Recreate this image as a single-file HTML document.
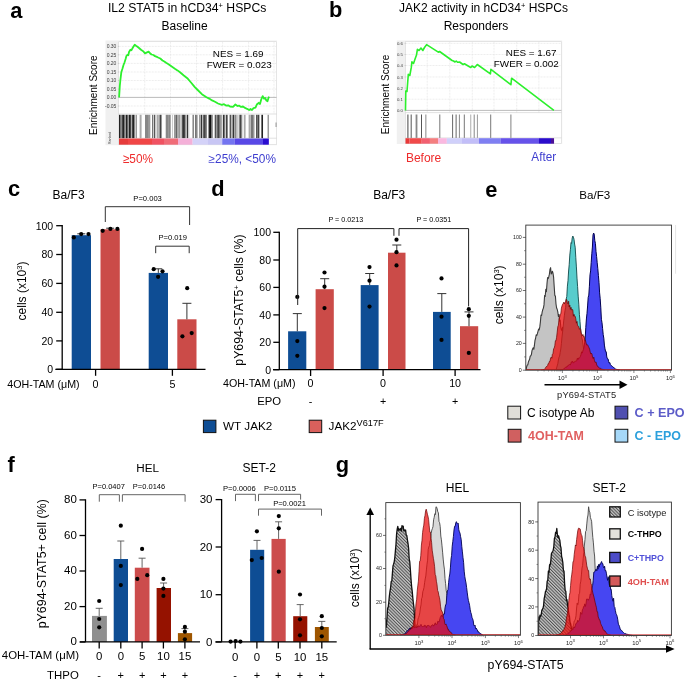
<!DOCTYPE html>
<html><head><meta charset="utf-8"><style>
html,body{margin:0;padding:0;background:#fff;}
svg{display:block;will-change:transform;filter:blur(0.3px);}
text{font-family:"Liberation Sans", sans-serif;}
</style></head><body>
<svg width="685" height="681" viewBox="0 0 685 681" font-family='"Liberation Sans", sans-serif'>
<rect width="685" height="681" fill="#fff"/>
<text x="10.3" y="17.5" font-size="21.8" fill="#000" text-anchor="start" font-weight="bold" >a</text>
<text x="329" y="17" font-size="21.8" fill="#000" text-anchor="start" font-weight="bold" >b</text>
<text x="8" y="195.8" font-size="21.8" fill="#000" text-anchor="start" font-weight="bold" >c</text>
<text x="211.3" y="195.8" font-size="21.8" fill="#000" text-anchor="start" font-weight="bold" >d</text>
<text x="485.2" y="196.7" font-size="21.8" fill="#000" text-anchor="start" font-weight="bold" >e</text>
<text x="7.5" y="471.6" font-size="21.8" fill="#000" text-anchor="start" font-weight="bold" >f</text>
<text x="335.8" y="471.5" font-size="21.8" fill="#000" text-anchor="start" font-weight="bold" >g</text>
<text x="187.1" y="12.1" font-size="12.2" fill="#000" text-anchor="middle" >IL2 STAT5 in hCD34<tspan dy="-4.5" font-size="7.5">+</tspan><tspan dy="4.5"> HSPCs</tspan></text>
<text x="184.6" y="29.7" font-size="12" fill="#000" text-anchor="middle" >Baseline</text>
<rect x="105.5" y="40.5" width="171.5" height="104.69999999999999" fill="#f0f0f0" />
<rect x="118.7" y="41.7" width="157.90000000000003" height="102.99999999999999" fill="#ffffff" />
<rect x="118.7" y="41.7" width="157.90000000000003" height="102.99999999999999" fill="none" stroke="#d8d8d8" stroke-width="0.6"/>
<line x1="144.7" y1="41.7" x2="144.7" y2="114" stroke="#e2e2e2" stroke-width="0.6" stroke-dasharray="2,1"/>
<line x1="170.5" y1="41.7" x2="170.5" y2="114" stroke="#e2e2e2" stroke-width="0.6" stroke-dasharray="2,1"/>
<line x1="196.5" y1="41.7" x2="196.5" y2="114" stroke="#e2e2e2" stroke-width="0.6" stroke-dasharray="2,1"/>
<line x1="222.6" y1="41.7" x2="222.6" y2="114" stroke="#e2e2e2" stroke-width="0.6" stroke-dasharray="2,1"/>
<line x1="248.6" y1="41.7" x2="248.6" y2="114" stroke="#e2e2e2" stroke-width="0.6" stroke-dasharray="2,1"/>
<line x1="274" y1="41.7" x2="274" y2="114" stroke="#e2e2e2" stroke-width="0.6" stroke-dasharray="2,1"/>
<line x1="118.7" y1="46.4" x2="276.6" y2="46.4" stroke="#e2e2e2" stroke-width="0.6" stroke-dasharray="2,1"/>
<text x="116.4" y="48.3" font-size="5.0" fill="#3a3a3a" text-anchor="end" >0.30</text>
<line x1="117.9" y1="46.4" x2="118.7" y2="46.4" stroke="#999" stroke-width="0.5" />
<line x1="118.7" y1="54.8" x2="276.6" y2="54.8" stroke="#e2e2e2" stroke-width="0.6" stroke-dasharray="2,1"/>
<text x="116.4" y="56.699999999999996" font-size="5.0" fill="#3a3a3a" text-anchor="end" >0.25</text>
<line x1="117.9" y1="54.8" x2="118.7" y2="54.8" stroke="#999" stroke-width="0.5" />
<line x1="118.7" y1="63.4" x2="276.6" y2="63.4" stroke="#e2e2e2" stroke-width="0.6" stroke-dasharray="2,1"/>
<text x="116.4" y="65.3" font-size="5.0" fill="#3a3a3a" text-anchor="end" >0.20</text>
<line x1="117.9" y1="63.4" x2="118.7" y2="63.4" stroke="#999" stroke-width="0.5" />
<line x1="118.7" y1="72" x2="276.6" y2="72" stroke="#e2e2e2" stroke-width="0.6" stroke-dasharray="2,1"/>
<text x="116.4" y="73.9" font-size="5.0" fill="#3a3a3a" text-anchor="end" >0.15</text>
<line x1="117.9" y1="72" x2="118.7" y2="72" stroke="#999" stroke-width="0.5" />
<line x1="118.7" y1="80.5" x2="276.6" y2="80.5" stroke="#e2e2e2" stroke-width="0.6" stroke-dasharray="2,1"/>
<text x="116.4" y="82.4" font-size="5.0" fill="#3a3a3a" text-anchor="end" >0.10</text>
<line x1="117.9" y1="80.5" x2="118.7" y2="80.5" stroke="#999" stroke-width="0.5" />
<line x1="118.7" y1="89.1" x2="276.6" y2="89.1" stroke="#e2e2e2" stroke-width="0.6" stroke-dasharray="2,1"/>
<text x="116.4" y="91.0" font-size="5.0" fill="#3a3a3a" text-anchor="end" >0.05</text>
<line x1="117.9" y1="89.1" x2="118.7" y2="89.1" stroke="#999" stroke-width="0.5" />
<line x1="118.7" y1="97.4" x2="276.6" y2="97.4" stroke="#aaaaaa" stroke-width="0.8" />
<text x="116.4" y="99.30000000000001" font-size="5.0" fill="#3a3a3a" text-anchor="end" >0.00</text>
<line x1="117.9" y1="97.4" x2="118.7" y2="97.4" stroke="#999" stroke-width="0.5" />
<line x1="118.7" y1="106" x2="276.6" y2="106" stroke="#e2e2e2" stroke-width="0.6" stroke-dasharray="2,1"/>
<text x="116.4" y="107.9" font-size="5.0" fill="#3a3a3a" text-anchor="end" >-0.05</text>
<line x1="117.9" y1="106" x2="118.7" y2="106" stroke="#999" stroke-width="0.5" />
<line x1="118.7" y1="114" x2="276.6" y2="114" stroke="#cccccc" stroke-width="0.6" />
<line x1="118.7" y1="138.2" x2="276.6" y2="138.2" stroke="#cccccc" stroke-width="0.6" />
<text transform="translate(96.6,95.2) rotate(-90)" x="0" y="0" font-size="10" fill="#000" text-anchor="middle" >Enrichment Score</text>
<text x="212.8" y="56.7" font-size="9.9" fill="#000" text-anchor="start" >NES = 1.69</text>
<text x="206.7" y="68" font-size="9.9" fill="#000" text-anchor="start" >FWER = 0.023</text>
<text x="122.8" y="162.5" font-size="12.8" fill="#ee2b2b" text-anchor="start"  textLength="30.2" lengthAdjust="spacingAndGlyphs">≥50%</text>
<text x="208.6" y="162.6" font-size="12.2" fill="#3d3dcf" text-anchor="start"  textLength="67.4" lengthAdjust="spacingAndGlyphs">≥25%, &lt;50%</text>
<text transform="translate(110.5,144) rotate(-90)" font-size="3.5" fill="#444">Ranked</text>
<rect x="119" y="114.8" width="1.02" height="23.39999999999999" fill="rgb(34,34,34)" />
<rect x="120" y="114.8" width="1.02" height="23.39999999999999" fill="rgb(119,119,119)" />
<rect x="121" y="114.8" width="1.02" height="23.39999999999999" fill="rgb(136,136,136)" />
<rect x="122" y="114.8" width="1.02" height="23.39999999999999" fill="rgb(68,68,68)" />
<rect x="123" y="114.8" width="1.02" height="23.39999999999999" fill="rgb(34,34,34)" />
<rect x="124" y="114.8" width="1.02" height="23.39999999999999" fill="rgb(119,119,119)" />
<rect x="125" y="114.8" width="1.02" height="23.39999999999999" fill="rgb(153,153,153)" />
<rect x="126" y="114.8" width="1.02" height="23.39999999999999" fill="rgb(34,34,34)" />
<rect x="127" y="114.8" width="1.02" height="23.39999999999999" fill="rgb(102,102,102)" />
<rect x="128" y="114.8" width="1.02" height="23.39999999999999" fill="rgb(153,153,153)" />
<rect x="129" y="114.8" width="1.02" height="23.39999999999999" fill="rgb(34,34,34)" />
<rect x="130" y="114.8" width="1.02" height="23.39999999999999" fill="rgb(68,68,68)" />
<rect x="131" y="114.8" width="1.02" height="23.39999999999999" fill="rgb(170,170,170)" />
<rect x="132" y="114.8" width="1.02" height="23.39999999999999" fill="rgb(68,68,68)" />
<rect x="133" y="114.8" width="1.02" height="23.39999999999999" fill="rgb(34,34,34)" />
<rect x="134" y="114.8" width="1.02" height="23.39999999999999" fill="rgb(136,136,136)" />
<rect x="135" y="114.8" width="1.02" height="23.39999999999999" fill="rgb(204,204,204)" />
<rect x="136" y="114.8" width="1.02" height="23.39999999999999" fill="rgb(153,153,153)" />
<rect x="139" y="114.8" width="1.02" height="23.39999999999999" fill="rgb(221,221,221)" />
<rect x="140" y="114.8" width="1.02" height="23.39999999999999" fill="rgb(170,170,170)" />
<rect x="141" y="114.8" width="1.02" height="23.39999999999999" fill="rgb(204,204,204)" />
<rect x="145" y="114.8" width="1.02" height="23.39999999999999" fill="rgb(136,136,136)" />
<rect x="146" y="114.8" width="1.02" height="23.39999999999999" fill="rgb(136,136,136)" />
<rect x="147" y="114.8" width="1.02" height="23.39999999999999" fill="rgb(136,136,136)" />
<rect x="148" y="114.8" width="1.02" height="23.39999999999999" fill="rgb(153,153,153)" />
<rect x="149" y="114.8" width="1.02" height="23.39999999999999" fill="rgb(153,153,153)" />
<rect x="150" y="114.8" width="1.02" height="23.39999999999999" fill="rgb(221,221,221)" />
<rect x="152" y="114.8" width="1.02" height="23.39999999999999" fill="rgb(119,119,119)" />
<rect x="153" y="114.8" width="1.02" height="23.39999999999999" fill="rgb(204,204,204)" />
<rect x="154" y="114.8" width="1.02" height="23.39999999999999" fill="rgb(85,85,85)" />
<rect x="155" y="114.8" width="1.02" height="23.39999999999999" fill="rgb(204,204,204)" />
<rect x="156" y="114.8" width="1.02" height="23.39999999999999" fill="rgb(221,221,221)" />
<rect x="157" y="114.8" width="1.02" height="23.39999999999999" fill="rgb(170,170,170)" />
<rect x="158" y="114.8" width="1.02" height="23.39999999999999" fill="rgb(187,187,187)" />
<rect x="159" y="114.8" width="1.02" height="23.39999999999999" fill="rgb(153,153,153)" />
<rect x="160" y="114.8" width="1.02" height="23.39999999999999" fill="rgb(68,68,68)" />
<rect x="161" y="114.8" width="1.02" height="23.39999999999999" fill="rgb(153,153,153)" />
<rect x="165" y="114.8" width="1.02" height="23.39999999999999" fill="rgb(221,221,221)" />
<rect x="166" y="114.8" width="1.02" height="23.39999999999999" fill="rgb(136,136,136)" />
<rect x="167" y="114.8" width="1.02" height="23.39999999999999" fill="rgb(136,136,136)" />
<rect x="168" y="114.8" width="1.02" height="23.39999999999999" fill="rgb(153,153,153)" />
<rect x="169" y="114.8" width="1.02" height="23.39999999999999" fill="rgb(136,136,136)" />
<rect x="170" y="114.8" width="1.02" height="23.39999999999999" fill="rgb(170,170,170)" />
<rect x="172" y="114.8" width="1.02" height="23.39999999999999" fill="rgb(204,204,204)" />
<rect x="174" y="114.8" width="1.02" height="23.39999999999999" fill="rgb(153,153,153)" />
<rect x="175" y="114.8" width="1.02" height="23.39999999999999" fill="rgb(153,153,153)" />
<rect x="176" y="114.8" width="1.02" height="23.39999999999999" fill="rgb(102,102,102)" />
<rect x="177" y="114.8" width="1.02" height="23.39999999999999" fill="rgb(170,170,170)" />
<rect x="178" y="114.8" width="1.02" height="23.39999999999999" fill="rgb(170,170,170)" />
<rect x="179" y="114.8" width="1.02" height="23.39999999999999" fill="rgb(153,153,153)" />
<rect x="180" y="114.8" width="1.02" height="23.39999999999999" fill="rgb(204,204,204)" />
<rect x="181" y="114.8" width="1.02" height="23.39999999999999" fill="rgb(187,187,187)" />
<rect x="182" y="114.8" width="1.02" height="23.39999999999999" fill="rgb(85,85,85)" />
<rect x="183" y="114.8" width="1.02" height="23.39999999999999" fill="rgb(51,51,51)" />
<rect x="184" y="114.8" width="1.02" height="23.39999999999999" fill="rgb(68,68,68)" />
<rect x="185" y="114.8" width="1.02" height="23.39999999999999" fill="rgb(153,153,153)" />
<rect x="186" y="114.8" width="1.02" height="23.39999999999999" fill="rgb(187,187,187)" />
<rect x="187" y="114.8" width="1.02" height="23.39999999999999" fill="rgb(51,51,51)" />
<rect x="188" y="114.8" width="1.02" height="23.39999999999999" fill="rgb(204,204,204)" />
<rect x="189" y="114.8" width="1.02" height="23.39999999999999" fill="rgb(238,238,238)" />
<rect x="192" y="114.8" width="1.02" height="23.39999999999999" fill="rgb(187,187,187)" />
<rect x="193" y="114.8" width="1.02" height="23.39999999999999" fill="rgb(136,136,136)" />
<rect x="195" y="114.8" width="1.02" height="23.39999999999999" fill="rgb(119,119,119)" />
<rect x="196" y="114.8" width="1.02" height="23.39999999999999" fill="rgb(136,136,136)" />
<rect x="197" y="114.8" width="1.02" height="23.39999999999999" fill="rgb(187,187,187)" />
<rect x="199" y="114.8" width="1.02" height="23.39999999999999" fill="rgb(153,153,153)" />
<rect x="200" y="114.8" width="1.02" height="23.39999999999999" fill="rgb(170,170,170)" />
<rect x="201" y="114.8" width="1.02" height="23.39999999999999" fill="rgb(51,51,51)" />
<rect x="202" y="114.8" width="1.02" height="23.39999999999999" fill="rgb(187,187,187)" />
<rect x="203" y="114.8" width="1.02" height="23.39999999999999" fill="rgb(102,102,102)" />
<rect x="204" y="114.8" width="1.02" height="23.39999999999999" fill="rgb(68,68,68)" />
<rect x="205" y="114.8" width="1.02" height="23.39999999999999" fill="rgb(102,102,102)" />
<rect x="206" y="114.8" width="1.02" height="23.39999999999999" fill="rgb(136,136,136)" />
<rect x="208" y="114.8" width="1.02" height="23.39999999999999" fill="rgb(153,153,153)" />
<rect x="209" y="114.8" width="1.02" height="23.39999999999999" fill="rgb(34,34,34)" />
<rect x="210" y="114.8" width="1.02" height="23.39999999999999" fill="rgb(17,17,17)" />
<rect x="211" y="114.8" width="1.02" height="23.39999999999999" fill="rgb(119,119,119)" />
<rect x="212" y="114.8" width="1.02" height="23.39999999999999" fill="rgb(153,153,153)" />
<rect x="214" y="114.8" width="1.02" height="23.39999999999999" fill="rgb(204,204,204)" />
<rect x="215" y="114.8" width="1.02" height="23.39999999999999" fill="rgb(85,85,85)" />
<rect x="216" y="114.8" width="1.02" height="23.39999999999999" fill="rgb(153,153,153)" />
<rect x="217" y="114.8" width="1.02" height="23.39999999999999" fill="rgb(102,102,102)" />
<rect x="218" y="114.8" width="1.02" height="23.39999999999999" fill="rgb(68,68,68)" />
<rect x="219" y="114.8" width="1.02" height="23.39999999999999" fill="rgb(119,119,119)" />
<rect x="220" y="114.8" width="1.02" height="23.39999999999999" fill="rgb(153,153,153)" />
<rect x="221" y="114.8" width="1.02" height="23.39999999999999" fill="rgb(170,170,170)" />
<rect x="222" y="114.8" width="1.02" height="23.39999999999999" fill="rgb(221,221,221)" />
<rect x="223" y="114.8" width="1.02" height="23.39999999999999" fill="rgb(51,51,51)" />
<rect x="224" y="114.8" width="1.02" height="23.39999999999999" fill="rgb(119,119,119)" />
<rect x="225" y="114.8" width="1.02" height="23.39999999999999" fill="rgb(204,204,204)" />
<rect x="226" y="114.8" width="1.02" height="23.39999999999999" fill="rgb(68,68,68)" />
<rect x="227" y="114.8" width="1.02" height="23.39999999999999" fill="rgb(136,136,136)" />
<rect x="229" y="114.8" width="1.02" height="23.39999999999999" fill="rgb(187,187,187)" />
<rect x="230" y="114.8" width="1.02" height="23.39999999999999" fill="rgb(85,85,85)" />
<rect x="231" y="114.8" width="1.02" height="23.39999999999999" fill="rgb(187,187,187)" />
<rect x="232" y="114.8" width="1.02" height="23.39999999999999" fill="rgb(153,153,153)" />
<rect x="233" y="114.8" width="1.02" height="23.39999999999999" fill="rgb(51,51,51)" />
<rect x="234" y="114.8" width="1.02" height="23.39999999999999" fill="rgb(170,170,170)" />
<rect x="235" y="114.8" width="1.02" height="23.39999999999999" fill="rgb(136,136,136)" />
<rect x="236" y="114.8" width="1.02" height="23.39999999999999" fill="rgb(187,187,187)" />
<rect x="237" y="114.8" width="1.02" height="23.39999999999999" fill="rgb(204,204,204)" />
<rect x="238" y="114.8" width="1.02" height="23.39999999999999" fill="rgb(221,221,221)" />
<rect x="239" y="114.8" width="1.02" height="23.39999999999999" fill="rgb(136,136,136)" />
<rect x="240" y="114.8" width="1.02" height="23.39999999999999" fill="rgb(68,68,68)" />
<rect x="241" y="114.8" width="1.02" height="23.39999999999999" fill="rgb(136,136,136)" />
<rect x="242" y="114.8" width="1.02" height="23.39999999999999" fill="rgb(221,221,221)" />
<rect x="243" y="114.8" width="1.02" height="23.39999999999999" fill="rgb(238,238,238)" />
<rect x="244" y="114.8" width="1.02" height="23.39999999999999" fill="rgb(170,170,170)" />
<rect x="245" y="114.8" width="1.02" height="23.39999999999999" fill="rgb(204,204,204)" />
<rect x="248" y="114.8" width="1.02" height="23.39999999999999" fill="rgb(221,221,221)" />
<rect x="249" y="114.8" width="1.02" height="23.39999999999999" fill="rgb(170,170,170)" />
<rect x="250" y="114.8" width="1.02" height="23.39999999999999" fill="rgb(187,187,187)" />
<rect x="251" y="114.8" width="1.02" height="23.39999999999999" fill="rgb(119,119,119)" />
<rect x="252" y="114.8" width="1.02" height="23.39999999999999" fill="rgb(119,119,119)" />
<rect x="253" y="114.8" width="1.02" height="23.39999999999999" fill="rgb(153,153,153)" />
<rect x="254" y="114.8" width="1.02" height="23.39999999999999" fill="rgb(204,204,204)" />
<rect x="256" y="114.8" width="1.02" height="23.39999999999999" fill="rgb(85,85,85)" />
<rect x="257" y="114.8" width="1.02" height="23.39999999999999" fill="rgb(119,119,119)" />
<rect x="258" y="114.8" width="1.02" height="23.39999999999999" fill="rgb(68,68,68)" />
<rect x="259" y="114.8" width="1.02" height="23.39999999999999" fill="rgb(187,187,187)" />
<rect x="261" y="114.8" width="1.02" height="23.39999999999999" fill="rgb(119,119,119)" />
<rect x="262" y="114.8" width="1.02" height="23.39999999999999" fill="rgb(34,34,34)" />
<rect x="267" y="114.8" width="1.02" height="23.39999999999999" fill="rgb(204,204,204)" />
<rect x="268" y="114.8" width="1.02" height="23.39999999999999" fill="rgb(153,153,153)" />
<rect x="119" y="138.5" width="9.05" height="6.2" fill="#e63c3c" />
<rect x="128" y="138.5" width="24.05" height="6.2" fill="#f04646" />
<rect x="152" y="138.5" width="12.05" height="6.2" fill="#f05262" />
<rect x="164" y="138.5" width="14.05" height="6.2" fill="#f06c78" />
<rect x="178" y="138.5" width="14.649999999999995" height="6.2" fill="#f4b0d8" />
<rect x="192.6" y="138.5" width="15.450000000000006" height="6.2" fill="#d4d2f8" />
<rect x="208" y="138.5" width="14.24999999999999" height="6.2" fill="#c8c6f4" />
<rect x="222.2" y="138.5" width="12.55" height="6.2" fill="#7474f0" />
<rect x="234.7" y="138.5" width="28.24999999999999" height="6.2" fill="#5848e6" />
<rect x="262.9" y="138.5" width="5.950000000000034" height="6.2" fill="#2a0cd0" />
<rect x="275.6" y="122.5" width="0.9" height="4.5" fill="#888" />
<polyline points="119.10,97.40 119.30,94.00 119.80,86.00 120.40,80.00 121.30,72.30 122.50,68.50 123.50,65.00 124.50,62.50 125.60,59.00 126.40,56.00 127.40,54.80 128.30,55.20 129.00,52.00 130.40,49.70 131.50,50.20 132.50,48.20 133.50,46.50 134.70,44.80 136.00,45.80 137.50,46.80 139.00,48.00 141.30,50.00 143.20,51.20 145.00,53.40 146.50,52.60 148.60,51.60 150.00,53.20 151.50,54.50 153.50,55.00 155.00,56.20 157.50,57.20 160.30,58.50 162.50,60.50 164.30,61.50 166.10,62.80 168.50,64.20 171.00,66.00 174.90,68.70 177.50,70.40 180.00,72.30 183.50,75.20 187.30,78.20 191.00,82.50 194.60,86.90 197.70,90.00 201.90,94.20 206.50,97.20 209.20,98.60 212.10,100.40 215.00,101.80 218.00,103.50 221.80,104.80 224.00,104.20 226.00,105.60 228.20,105.30 230.00,106.50 233.00,106.90 235.40,104.50 237.50,106.00 239.00,105.60 241.00,106.90 243.00,106.50 245.50,108.20 247.00,108.80 249.10,110.10 250.50,109.00 252.00,110.00 253.50,108.20 255.50,107.70 256.80,104.50 258.70,102.80 260.00,104.00 261.20,99.50 262.70,96.10 264.00,98.60 265.10,98.00 266.40,100.50 267.50,101.20 268.30,98.50 269.10,96.70" fill="none" stroke="#2cf02c" stroke-width="1.8" stroke-linejoin="round"/>
<text x="398.9" y="12.1" font-size="12" fill="#000" text-anchor="start" >JAK2 activity in hCD34<tspan dy="-4.5" font-size="7.5">+</tspan><tspan dy="4.5"> HSPCs</tspan></text>
<text x="476" y="29.7" font-size="12" fill="#000" text-anchor="middle" >Responders</text>
<rect x="396.8" y="40.5" width="165.40000000000003" height="103.5" fill="#f0f0f0" />
<rect x="405.5" y="41.7" width="155.89999999999998" height="101.99999999999999" fill="#ffffff" />
<rect x="405.5" y="41.7" width="155.89999999999998" height="101.8" fill="none" stroke="#d8d8d8" stroke-width="0.6"/>
<line x1="427.2" y1="41.7" x2="427.2" y2="112.6" stroke="#e2e2e2" stroke-width="0.6" stroke-dasharray="2,1"/>
<line x1="449.8" y1="41.7" x2="449.8" y2="112.6" stroke="#e2e2e2" stroke-width="0.6" stroke-dasharray="2,1"/>
<line x1="472.3" y1="41.7" x2="472.3" y2="112.6" stroke="#e2e2e2" stroke-width="0.6" stroke-dasharray="2,1"/>
<line x1="494" y1="41.7" x2="494" y2="112.6" stroke="#e2e2e2" stroke-width="0.6" stroke-dasharray="2,1"/>
<line x1="516.7" y1="41.7" x2="516.7" y2="112.6" stroke="#e2e2e2" stroke-width="0.6" stroke-dasharray="2,1"/>
<line x1="538.9" y1="41.7" x2="538.9" y2="112.6" stroke="#e2e2e2" stroke-width="0.6" stroke-dasharray="2,1"/>
<line x1="405.5" y1="43.4" x2="561.4" y2="43.4" stroke="#e2e2e2" stroke-width="0.6" stroke-dasharray="2,1"/>
<text x="402.9" y="45.034" font-size="4.3" fill="#3a3a3a" text-anchor="end" >0.6</text>
<line x1="404.7" y1="43.4" x2="405.5" y2="43.4" stroke="#999" stroke-width="0.5" />
<line x1="405.5" y1="54.5" x2="561.4" y2="54.5" stroke="#e2e2e2" stroke-width="0.6" stroke-dasharray="2,1"/>
<text x="402.9" y="56.134" font-size="4.3" fill="#3a3a3a" text-anchor="end" >0.5</text>
<line x1="404.7" y1="54.5" x2="405.5" y2="54.5" stroke="#999" stroke-width="0.5" />
<line x1="405.5" y1="65.5" x2="561.4" y2="65.5" stroke="#e2e2e2" stroke-width="0.6" stroke-dasharray="2,1"/>
<text x="402.9" y="67.134" font-size="4.3" fill="#3a3a3a" text-anchor="end" >0.4</text>
<line x1="404.7" y1="65.5" x2="405.5" y2="65.5" stroke="#999" stroke-width="0.5" />
<line x1="405.5" y1="77" x2="561.4" y2="77" stroke="#e2e2e2" stroke-width="0.6" stroke-dasharray="2,1"/>
<text x="402.9" y="78.634" font-size="4.3" fill="#3a3a3a" text-anchor="end" >0.3</text>
<line x1="404.7" y1="77" x2="405.5" y2="77" stroke="#999" stroke-width="0.5" />
<line x1="405.5" y1="88.1" x2="561.4" y2="88.1" stroke="#e2e2e2" stroke-width="0.6" stroke-dasharray="2,1"/>
<text x="402.9" y="89.734" font-size="4.3" fill="#3a3a3a" text-anchor="end" >0.2</text>
<line x1="404.7" y1="88.1" x2="405.5" y2="88.1" stroke="#999" stroke-width="0.5" />
<line x1="405.5" y1="99.2" x2="561.4" y2="99.2" stroke="#e2e2e2" stroke-width="0.6" stroke-dasharray="2,1"/>
<text x="402.9" y="100.834" font-size="4.3" fill="#3a3a3a" text-anchor="end" >0.1</text>
<line x1="404.7" y1="99.2" x2="405.5" y2="99.2" stroke="#999" stroke-width="0.5" />
<line x1="405.5" y1="110.4" x2="561.4" y2="110.4" stroke="#aaaaaa" stroke-width="0.8" />
<text x="402.9" y="112.034" font-size="4.3" fill="#3a3a3a" text-anchor="end" >0.0</text>
<line x1="404.7" y1="110.4" x2="405.5" y2="110.4" stroke="#999" stroke-width="0.5" />
<line x1="405.5" y1="112.6" x2="561.4" y2="112.6" stroke="#cccccc" stroke-width="0.6" />
<line x1="405.5" y1="137.89999999999998" x2="561.4" y2="137.89999999999998" stroke="#cccccc" stroke-width="0.6" />
<text transform="translate(388.8,94.5) rotate(-90)" x="0" y="0" font-size="10" fill="#000" text-anchor="middle" >Enrichment Score</text>
<text x="505.8" y="55.8" font-size="9.9" fill="#000" text-anchor="start" >NES = 1.67</text>
<text x="493.8" y="66.8" font-size="9.9" fill="#000" text-anchor="start" >FWER = 0.002</text>
<text x="405.9" y="161.5" font-size="12.2" fill="#ee2b2b" text-anchor="start"  textLength="35.4" lengthAdjust="spacingAndGlyphs">Before</text>
<text x="531.3" y="161.3" font-size="12" fill="#3d3dcf" text-anchor="start"  textLength="24.8" lengthAdjust="spacingAndGlyphs">After</text>
<text transform="translate(401.5,140) rotate(-90)" font-size="3.5" fill="#444"></text>
<rect x="407.34999999999997" y="114.5" width="1.1" height="23.4" fill="rgb(85,85,85)" />
<rect x="410.65" y="114.5" width="1.1" height="23.4" fill="rgb(102,102,102)" />
<rect x="415.6" y="114.5" width="1.8" height="23.4" fill="rgb(136,136,136)" />
<rect x="421.0" y="114.5" width="1.0" height="23.4" fill="rgb(85,85,85)" />
<rect x="425.1" y="114.5" width="1.4" height="23.4" fill="rgb(170,170,170)" />
<rect x="439.3" y="114.5" width="1.0" height="23.4" fill="rgb(119,119,119)" />
<rect x="452.1" y="114.5" width="1.0" height="23.4" fill="rgb(102,102,102)" />
<rect x="455.6" y="114.5" width="1.0" height="23.4" fill="rgb(102,102,102)" />
<rect x="458.9" y="114.5" width="1.0" height="23.4" fill="rgb(136,136,136)" />
<rect x="463.8" y="114.5" width="1.0" height="23.4" fill="rgb(119,119,119)" />
<rect x="470.09999999999997" y="114.5" width="1.2" height="23.4" fill="rgb(187,187,187)" />
<rect x="473.7" y="114.5" width="1.0" height="23.4" fill="rgb(136,136,136)" />
<rect x="476.9" y="114.5" width="1.0" height="23.4" fill="rgb(153,153,153)" />
<rect x="490.2" y="114.5" width="1.0" height="23.4" fill="rgb(120,120,120)" />
<rect x="510.4" y="114.5" width="1.0" height="23.4" fill="rgb(130,130,130)" />
<rect x="405.5" y="138.2" width="4.05" height="5.5" fill="#e83838" />
<rect x="409.5" y="138.2" width="12.24999999999999" height="5.5" fill="#f04a4a" />
<rect x="421.7" y="138.2" width="8.24999999999999" height="5.5" fill="#f26070" />
<rect x="429.9" y="138.2" width="8.150000000000023" height="5.5" fill="#f47f80" />
<rect x="438" y="138.2" width="8.850000000000012" height="5.5" fill="#fab8e0" />
<rect x="446.8" y="138.2" width="15.24999999999999" height="5.5" fill="#d0d0fa" />
<rect x="462" y="138.2" width="17.05" height="5.5" fill="#c2bef8" />
<rect x="479" y="138.2" width="21.74999999999999" height="5.5" fill="#7f7ff2" />
<rect x="500.7" y="138.2" width="38.249999999999986" height="5.5" fill="#6652ea" />
<rect x="538.9" y="138.2" width="12.150000000000023" height="5.5" fill="#2a0ccc" />
<rect x="551" y="138.2" width="3.05" height="5.5" fill="#4a1098" />
<polyline points="405.50,110.40 405.80,91.00 407.00,91.50 408.30,74.40 409.80,75.50 411.30,67.40 411.90,61.90 413.50,63.50 415.50,57.70 416.50,55.00 417.40,49.40 419.00,50.50 421.00,48.00 422.80,50.50 424.50,47.50 426.60,44.60 438.30,52.20 439.60,51.50 452.10,60.50 453.50,61.00 455.00,62.00 456.20,61.00 457.50,62.30 459.60,62.00 463.00,64.50 464.40,63.80 469.00,66.50 470.80,67.50 472.00,66.00 474.60,67.50 476.00,66.00 477.30,64.50 490.40,73.80 490.90,69.40 510.90,84.70 511.60,78.20 553.90,110.40" fill="none" stroke="#2cf02c" stroke-width="1.6" stroke-linejoin="round"/>
<text x="52.6" y="198.6" font-size="12" fill="#000" text-anchor="start" >Ba/F3</text>
<rect x="71.7" y="235.2" width="19.299999999999997" height="134.10000000000002" fill="#0e4d94" />
<rect x="100.5" y="229.3" width="19.299999999999997" height="140.0" fill="#cb4b48" />
<rect x="148.7" y="272.9" width="19.30000000000001" height="96.40000000000003" fill="#0e4d94" />
<rect x="177.3" y="319.3" width="19.19999999999999" height="50.0" fill="#cb4b48" />
<line x1="81.3" y1="233.8" x2="81.3" y2="235.2" stroke="#333" stroke-width="1" />
<line x1="77.3" y1="233.8" x2="85.3" y2="233.8" stroke="#333" stroke-width="1" />
<line x1="110.2" y1="228.2" x2="110.2" y2="229.3" stroke="#333" stroke-width="1" />
<line x1="106.2" y1="228.2" x2="114.2" y2="228.2" stroke="#333" stroke-width="1" />
<line x1="158.3" y1="268.8" x2="158.3" y2="272.9" stroke="#333" stroke-width="1" />
<line x1="154.3" y1="268.8" x2="162.3" y2="268.8" stroke="#333" stroke-width="1" />
<line x1="186.9" y1="303.3" x2="186.9" y2="319.3" stroke="#333" stroke-width="1" />
<line x1="182.4" y1="303.3" x2="191.4" y2="303.3" stroke="#333" stroke-width="1" />
<circle cx="73.8" cy="237.4" r="2.1" fill="#000"/>
<circle cx="81.2" cy="234.1" r="2.1" fill="#000"/>
<circle cx="88.5" cy="234.1" r="2.1" fill="#000"/>
<circle cx="102.7" cy="230.8" r="2.1" fill="#000"/>
<circle cx="110.4" cy="228.9" r="2.1" fill="#000"/>
<circle cx="117.4" cy="228.9" r="2.1" fill="#000"/>
<circle cx="153.7" cy="269.2" r="2.1" fill="#000"/>
<circle cx="158.1" cy="276.8" r="2.1" fill="#000"/>
<circle cx="162.5" cy="271.3" r="2.1" fill="#000"/>
<circle cx="187.2" cy="288.2" r="2.1" fill="#000"/>
<circle cx="182.4" cy="336.3" r="2.1" fill="#000"/>
<circle cx="191.7" cy="333.1" r="2.1" fill="#000"/>
<line x1="62.2" y1="225.1" x2="62.2" y2="369.3" stroke="#000" stroke-width="1.3" />
<line x1="56.2" y1="225.7" x2="62.2" y2="225.7" stroke="#000" stroke-width="1.3" />
<text x="53.2" y="229.5" font-size="10.5" fill="#000" text-anchor="end" >100</text>
<line x1="56.2" y1="254.5" x2="62.2" y2="254.5" stroke="#000" stroke-width="1.3" />
<text x="53.2" y="258.3" font-size="10.5" fill="#000" text-anchor="end" >80</text>
<line x1="56.2" y1="283.4" x2="62.2" y2="283.4" stroke="#000" stroke-width="1.3" />
<text x="53.2" y="287.2" font-size="10.5" fill="#000" text-anchor="end" >60</text>
<line x1="56.2" y1="312.3" x2="62.2" y2="312.3" stroke="#000" stroke-width="1.3" />
<text x="53.2" y="316.1" font-size="10.5" fill="#000" text-anchor="end" >40</text>
<line x1="56.2" y1="340.9" x2="62.2" y2="340.9" stroke="#000" stroke-width="1.3" />
<text x="53.2" y="344.7" font-size="10.5" fill="#000" text-anchor="end" >20</text>
<line x1="56.2" y1="369.3" x2="62.2" y2="369.3" stroke="#000" stroke-width="1.3" />
<text x="53.2" y="373.1" font-size="10.5" fill="#000" text-anchor="end" >0</text>
<line x1="55.3" y1="369.3" x2="205.5" y2="369.3" stroke="#000" stroke-width="1.3" />
<line x1="95.6" y1="369.3" x2="95.6" y2="375.8" stroke="#000" stroke-width="1.3" />
<line x1="172.4" y1="369.3" x2="172.4" y2="375.8" stroke="#000" stroke-width="1.3" />
<text x="95.6" y="387.5" font-size="10.7" fill="#000" text-anchor="middle" >0</text>
<text x="172.4" y="387.5" font-size="10.7" fill="#000" text-anchor="middle" >5</text>
<text x="7.2" y="387.5" font-size="10.7" fill="#000" text-anchor="start" >4OH-TAM (μM)</text>
<text transform="translate(25.8,291) rotate(-90)" x="0" y="0" font-size="12" fill="#000" text-anchor="middle" >cells (x10<tspan dy="-4" font-size="7.5">3</tspan><tspan dy="4">)</tspan></text>
<polyline points="105.30,222.00 105.30,206.70 189.60,206.70 189.60,225.00" fill="none" stroke="#333" stroke-width="1" />
<polyline points="155.70,253.20 155.70,246.20 189.20,246.20 189.20,253.20" fill="none" stroke="#333" stroke-width="1" />
<text x="147.6" y="200.6" font-size="7.6" fill="#000" text-anchor="middle" >P=0.003</text>
<text x="172.7" y="240" font-size="7.6" fill="#000" text-anchor="middle" >P=0.019</text>
<text x="389.2" y="199.2" font-size="12" fill="#000" text-anchor="middle" >Ba/F3</text>
<rect x="288.1" y="331.3" width="18.19999999999999" height="38.39999999999998" fill="#0e4d94" />
<line x1="297.3" y1="313.6" x2="297.3" y2="331.3" stroke="#333" stroke-width="1" />
<line x1="292.8" y1="313.6" x2="301.8" y2="313.6" stroke="#333" stroke-width="1" />
<rect x="315.6" y="289.2" width="18.19999999999999" height="80.5" fill="#cb4b48" />
<line x1="324.7" y1="278.7" x2="324.7" y2="289.2" stroke="#333" stroke-width="1" />
<line x1="320.2" y1="278.7" x2="329.2" y2="278.7" stroke="#333" stroke-width="1" />
<rect x="360.7" y="285.1" width="17.900000000000034" height="84.59999999999997" fill="#0e4d94" />
<line x1="369.7" y1="273.5" x2="369.7" y2="285.1" stroke="#333" stroke-width="1" />
<line x1="365.2" y1="273.5" x2="374.2" y2="273.5" stroke="#333" stroke-width="1" />
<rect x="388" y="252.7" width="17.5" height="117.0" fill="#cb4b48" />
<line x1="396.8" y1="245" x2="396.8" y2="252.7" stroke="#333" stroke-width="1" />
<line x1="392.3" y1="245" x2="401.3" y2="245" stroke="#333" stroke-width="1" />
<rect x="433" y="311.9" width="17.69999999999999" height="57.80000000000001" fill="#0e4d94" />
<line x1="441.8" y1="293.6" x2="441.8" y2="311.9" stroke="#333" stroke-width="1" />
<line x1="437.3" y1="293.6" x2="446.3" y2="293.6" stroke="#333" stroke-width="1" />
<rect x="460" y="326.2" width="18.19999999999999" height="43.5" fill="#cb4b48" />
<line x1="469" y1="311.9" x2="469" y2="326.2" stroke="#333" stroke-width="1" />
<line x1="464.5" y1="311.9" x2="473.5" y2="311.9" stroke="#333" stroke-width="1" />
<circle cx="297.3" cy="296.9" r="2.1" fill="#000"/>
<circle cx="297.3" cy="341.1" r="2.1" fill="#000"/>
<circle cx="297.3" cy="355.8" r="2.1" fill="#000"/>
<circle cx="324.5" cy="272.5" r="2.1" fill="#000"/>
<circle cx="324.5" cy="286.7" r="2.1" fill="#000"/>
<circle cx="324.5" cy="308.1" r="2.1" fill="#000"/>
<circle cx="369.5" cy="267.1" r="2.1" fill="#000"/>
<circle cx="369.5" cy="280.7" r="2.1" fill="#000"/>
<circle cx="369.5" cy="306.6" r="2.1" fill="#000"/>
<circle cx="396.5" cy="239.7" r="2.1" fill="#000"/>
<circle cx="396.5" cy="252.2" r="2.1" fill="#000"/>
<circle cx="396.5" cy="265.4" r="2.1" fill="#000"/>
<circle cx="441.5" cy="278.4" r="2.1" fill="#000"/>
<circle cx="441.5" cy="316.7" r="2.1" fill="#000"/>
<circle cx="441.5" cy="339.9" r="2.1" fill="#000"/>
<circle cx="468.8" cy="309.2" r="2.1" fill="#000"/>
<circle cx="468.8" cy="315.8" r="2.1" fill="#000"/>
<circle cx="468.8" cy="352.9" r="2.1" fill="#000"/>
<line x1="279.3" y1="231.70000000000002" x2="279.3" y2="369.7" stroke="#000" stroke-width="1.3" />
<line x1="273.3" y1="232.3" x2="279.3" y2="232.3" stroke="#000" stroke-width="1.3" />
<text x="271" y="236.10000000000002" font-size="10.5" fill="#000" text-anchor="end" >100</text>
<line x1="273.3" y1="260" x2="279.3" y2="260" stroke="#000" stroke-width="1.3" />
<text x="271" y="263.8" font-size="10.5" fill="#000" text-anchor="end" >80</text>
<line x1="273.3" y1="287.4" x2="279.3" y2="287.4" stroke="#000" stroke-width="1.3" />
<text x="271" y="291.2" font-size="10.5" fill="#000" text-anchor="end" >60</text>
<line x1="273.3" y1="314.9" x2="279.3" y2="314.9" stroke="#000" stroke-width="1.3" />
<text x="271" y="318.7" font-size="10.5" fill="#000" text-anchor="end" >40</text>
<line x1="273.3" y1="342.3" x2="279.3" y2="342.3" stroke="#000" stroke-width="1.3" />
<text x="271" y="346.1" font-size="10.5" fill="#000" text-anchor="end" >20</text>
<line x1="273.3" y1="369.7" x2="279.3" y2="369.7" stroke="#000" stroke-width="1.3" />
<text x="271" y="373.5" font-size="10.5" fill="#000" text-anchor="end" >0</text>
<line x1="273" y1="369.7" x2="480.5" y2="369.7" stroke="#000" stroke-width="1.3" />
<line x1="310.6" y1="369.7" x2="310.6" y2="376" stroke="#000" stroke-width="1.3" />
<text x="310.6" y="387.3" font-size="10.7" fill="#000" text-anchor="middle" >0</text>
<text x="310.6" y="404.6" font-size="10.7" fill="#000" text-anchor="middle" >-</text>
<line x1="383.1" y1="369.7" x2="383.1" y2="376" stroke="#000" stroke-width="1.3" />
<text x="383.1" y="387.3" font-size="10.7" fill="#000" text-anchor="middle" >0</text>
<text x="383.1" y="404.6" font-size="10.7" fill="#000" text-anchor="middle" >+</text>
<line x1="455.1" y1="369.7" x2="455.1" y2="376" stroke="#000" stroke-width="1.3" />
<text x="455.1" y="387.3" font-size="10.7" fill="#000" text-anchor="middle" >10</text>
<text x="455.1" y="404.6" font-size="10.7" fill="#000" text-anchor="middle" >+</text>
<text x="223.1" y="387.3" font-size="10.7" fill="#000" text-anchor="start" >4OH-TAM (μM)</text>
<text x="257.3" y="404.6" font-size="11.3" fill="#000" text-anchor="start" >EPO</text>
<text transform="translate(242.6,300.1) rotate(-90)" x="0" y="0" font-size="12.3" fill="#000" text-anchor="middle" >pY694-STAT5<tspan dy="-4" font-size="7.7">+</tspan><tspan dy="4"> cells (%)</tspan></text>
<polyline points="297.70,305.00 297.70,228.60 393.90,228.60 393.90,235.80" fill="none" stroke="#222" stroke-width="1" />
<polyline points="399.00,235.80 399.00,228.60 468.60,228.60 468.60,306.40" fill="none" stroke="#222" stroke-width="1" />
<text x="345.8" y="222.2" font-size="7.2" fill="#000" text-anchor="middle" >P = 0.0213</text>
<text x="433.8" y="222.2" font-size="7.2" fill="#000" text-anchor="middle" >P = 0.0351</text>
<rect x="203.4" y="420.2" width="12.5" height="12.4" fill="#0e4d94" stroke="#111" stroke-width="1"/>
<text x="223.1" y="430.4" font-size="11.7" fill="#000" text-anchor="start" >WT JAK2</text>
<rect x="309.2" y="420.2" width="12.5" height="12.4" fill="#d9605c" stroke="#111" stroke-width="1"/>
<text x="328.6" y="430.4" font-size="11.7" fill="#000" text-anchor="start" >JAK2<tspan dy="-4" font-size="9.2">V617F</tspan></text>
<text x="579.3" y="198.7" font-size="11.6" fill="#000" text-anchor="start" >Ba/F3</text>
<line x1="675.6" y1="225" x2="675.6" y2="273.7" stroke="#dddddd" stroke-width="0.8" />
<defs><pattern id="hatch" patternUnits="userSpaceOnUse" width="2.3" height="2.3" patternTransform="rotate(-45)"><rect width="2.3" height="2.3" fill="#c6c6c6"/><line x1="0.5" y1="0" x2="0.5" y2="2.3" stroke="#505050" stroke-width="1.0"/></pattern><clipPath id="clipE"><rect x="526" y="225" width="145.5" height="145.2"/></clipPath><clipPath id="clipG1"><rect x="386" y="502.6" width="134.4" height="132.7"/></clipPath><clipPath id="clipG2"><rect x="538.2" y="502.1" width="133.2" height="133.4"/></clipPath></defs>
<g clip-path="url(#clipE)">
<polygon points="526.00,370.20 526.00,370.20 526.60,366.98 527.20,365.14 527.80,364.81 528.40,361.87 529.00,360.53 529.60,359.34 530.20,356.19 530.80,355.80 531.40,354.60 532.00,350.67 532.60,348.93 533.20,347.84 533.80,349.29 534.40,345.46 535.00,340.37 535.60,338.23 536.20,334.84 536.80,335.47 537.40,333.67 538.00,331.43 538.60,329.06 539.20,329.84 539.80,326.88 540.40,321.82 541.00,315.16 541.60,315.53 542.20,311.95 542.80,309.57 543.40,308.12 544.00,304.90 544.60,295.58 545.20,296.45 545.80,289.23 546.40,291.80 547.00,283.62 547.60,277.49 548.20,278.55 548.80,276.71 549.40,274.17 550.00,269.43 550.60,267.67 551.20,274.01 551.80,272.96 552.40,271.21 553.00,273.21 553.60,277.16 554.20,286.51 554.80,295.29 555.40,296.07 556.00,303.99 556.60,307.99 557.20,309.34 557.80,311.81 558.40,316.40 559.00,314.54 559.60,321.12 560.20,320.20 560.80,327.08 561.40,329.76 562.00,330.55 562.60,327.41 563.20,334.56 563.80,337.62 564.40,342.19 565.00,343.18 565.60,345.68 566.20,349.69 566.80,351.76 567.40,354.85 568.00,352.96 568.60,356.56 569.20,356.73 569.80,358.59 570.40,360.71 571.00,362.84 571.60,362.91 572.20,365.04 572.80,366.97 573.40,367.69 574.00,367.92 574.60,368.63 575.20,369.26 575.80,369.96 576.00,370.20" fill="#c4c4c4" stroke="none" stroke-width="1" />
<polyline points="526.00,370.20 526.60,366.98 527.20,365.14 527.80,364.81 528.40,361.87 529.00,360.53 529.60,359.34 530.20,356.19 530.80,355.80 531.40,354.60 532.00,350.67 532.60,348.93 533.20,347.84 533.80,349.29 534.40,345.46 535.00,340.37 535.60,338.23 536.20,334.84 536.80,335.47 537.40,333.67 538.00,331.43 538.60,329.06 539.20,329.84 539.80,326.88 540.40,321.82 541.00,315.16 541.60,315.53 542.20,311.95 542.80,309.57 543.40,308.12 544.00,304.90 544.60,295.58 545.20,296.45 545.80,289.23 546.40,291.80 547.00,283.62 547.60,277.49 548.20,278.55 548.80,276.71 549.40,274.17 550.00,269.43 550.60,267.67 551.20,274.01 551.80,272.96 552.40,271.21 553.00,273.21 553.60,277.16 554.20,286.51 554.80,295.29 555.40,296.07 556.00,303.99 556.60,307.99 557.20,309.34 557.80,311.81 558.40,316.40 559.00,314.54 559.60,321.12 560.20,320.20 560.80,327.08 561.40,329.76 562.00,330.55 562.60,327.41 563.20,334.56 563.80,337.62 564.40,342.19 565.00,343.18 565.60,345.68 566.20,349.69 566.80,351.76 567.40,354.85 568.00,352.96 568.60,356.56 569.20,356.73 569.80,358.59 570.40,360.71 571.00,362.84 571.60,362.91 572.20,365.04 572.80,366.97 573.40,367.69 574.00,367.92 574.60,368.63 575.20,369.26 575.80,369.96" fill="none" stroke="#3a3a3a" stroke-width="1.1" stroke-linejoin="round" />
<polygon points="556.00,370.20 556.00,370.20 556.60,367.90 557.20,365.91 557.80,363.80 558.40,359.95 559.00,357.21 559.60,356.10 560.20,352.55 560.80,349.03 561.40,343.56 562.00,336.89 562.60,331.89 563.20,326.02 563.80,319.99 564.40,315.19 565.00,310.65 565.60,307.71 566.20,298.98 566.80,296.45 567.40,286.13 568.00,280.63 568.60,271.01 569.20,264.72 569.80,255.10 570.40,249.74 571.00,242.71 571.60,243.38 572.20,238.09 572.80,236.02 573.40,237.20 574.00,239.29 574.60,244.01 575.20,247.26 575.80,257.64 576.40,266.92 577.00,278.09 577.60,286.60 578.20,296.17 578.80,304.19 579.40,314.33 580.00,321.54 580.60,329.23 581.20,334.03 581.80,337.68 582.40,340.06 583.00,344.48 583.60,348.52 584.20,348.42 584.80,353.75 585.40,354.52 586.00,356.38 586.60,357.71 587.20,360.78 587.80,363.12 588.40,364.23 589.00,364.01 589.60,364.31 590.20,365.95 590.80,367.19 591.40,367.80 592.00,368.21 592.60,368.59 593.20,369.37 593.80,369.99 594.00,370.20" fill="#58cccc" stroke="none" stroke-width="1" />
<polyline points="556.00,370.20 556.60,367.90 557.20,365.91 557.80,363.80 558.40,359.95 559.00,357.21 559.60,356.10 560.20,352.55 560.80,349.03 561.40,343.56 562.00,336.89 562.60,331.89 563.20,326.02 563.80,319.99 564.40,315.19 565.00,310.65 565.60,307.71 566.20,298.98 566.80,296.45 567.40,286.13 568.00,280.63 568.60,271.01 569.20,264.72 569.80,255.10 570.40,249.74 571.00,242.71 571.60,243.38 572.20,238.09 572.80,236.02 573.40,237.20 574.00,239.29 574.60,244.01 575.20,247.26 575.80,257.64 576.40,266.92 577.00,278.09 577.60,286.60 578.20,296.17 578.80,304.19 579.40,314.33 580.00,321.54 580.60,329.23 581.20,334.03 581.80,337.68 582.40,340.06 583.00,344.48 583.60,348.52 584.20,348.42 584.80,353.75 585.40,354.52 586.00,356.38 586.60,357.71 587.20,360.78 587.80,363.12 588.40,364.23 589.00,364.01 589.60,364.31 590.20,365.95 590.80,367.19 591.40,367.80 592.00,368.21 592.60,368.59 593.20,369.37 593.80,369.99" fill="none" stroke="#104848" stroke-width="0.9" stroke-linejoin="round" />
<polygon points="560.00,370.20 560.00,370.20 560.60,370.02 561.20,369.84 561.80,369.61 562.40,369.52 563.00,369.35 563.60,369.15 564.20,368.41 564.80,367.98 565.40,367.46 566.00,367.08 566.60,367.23 567.20,366.05 567.80,366.18 568.40,365.19 569.00,364.80 569.60,364.55 570.20,364.97 570.80,363.98 571.40,361.91 572.00,362.08 572.60,361.17 573.20,363.03 573.80,362.44 574.40,362.04 575.00,361.70 575.60,361.05 576.20,361.29 576.80,360.35 577.40,358.16 578.00,359.64 578.60,358.01 579.20,358.44 579.80,357.36 580.40,356.46 581.00,354.69 581.60,351.80 582.20,353.11 582.80,351.20 583.40,349.44 584.00,346.98 584.60,342.86 585.20,337.97 585.80,327.44 586.40,318.96 587.00,313.35 587.60,305.96 588.20,297.33 588.80,295.13 589.40,286.22 590.00,274.84 590.60,270.91 591.20,262.45 591.80,253.75 592.40,247.06 593.00,235.03 593.60,233.02 594.20,234.11 594.80,240.62 595.40,243.34 596.00,251.37 596.60,256.43 597.20,262.67 597.80,268.63 598.40,275.53 599.00,282.48 599.60,292.87 600.20,298.73 600.80,307.85 601.40,319.25 602.00,322.69 602.60,328.53 603.20,334.56 603.80,338.13 604.40,345.09 605.00,348.80 605.60,351.62 606.20,351.67 606.80,356.97 607.40,358.65 608.00,358.82 608.60,361.38 609.20,363.09 609.80,362.55 610.40,364.59 611.00,365.35 611.60,365.79 612.20,366.33 612.80,366.72 613.40,367.35 614.00,367.57 614.60,368.32 615.20,368.63 615.80,369.31 616.40,369.39 617.00,369.36 617.60,369.68 618.20,369.76 618.80,369.89 619.40,370.02 620.00,370.16 620.20,370.20" fill="#4646f2" stroke="none" stroke-width="1" />
<polyline points="560.00,370.20 560.60,370.02 561.20,369.84 561.80,369.61 562.40,369.52 563.00,369.35 563.60,369.15 564.20,368.41 564.80,367.98 565.40,367.46 566.00,367.08 566.60,367.23 567.20,366.05 567.80,366.18 568.40,365.19 569.00,364.80 569.60,364.55 570.20,364.97 570.80,363.98 571.40,361.91 572.00,362.08 572.60,361.17 573.20,363.03 573.80,362.44 574.40,362.04 575.00,361.70 575.60,361.05 576.20,361.29 576.80,360.35 577.40,358.16 578.00,359.64 578.60,358.01 579.20,358.44 579.80,357.36 580.40,356.46 581.00,354.69 581.60,351.80 582.20,353.11 582.80,351.20 583.40,349.44 584.00,346.98 584.60,342.86 585.20,337.97 585.80,327.44 586.40,318.96 587.00,313.35 587.60,305.96 588.20,297.33 588.80,295.13 589.40,286.22 590.00,274.84 590.60,270.91 591.20,262.45 591.80,253.75 592.40,247.06 593.00,235.03 593.60,233.02 594.20,234.11 594.80,240.62 595.40,243.34 596.00,251.37 596.60,256.43 597.20,262.67 597.80,268.63 598.40,275.53 599.00,282.48 599.60,292.87 600.20,298.73 600.80,307.85 601.40,319.25 602.00,322.69 602.60,328.53 603.20,334.56 603.80,338.13 604.40,345.09 605.00,348.80 605.60,351.62 606.20,351.67 606.80,356.97 607.40,358.65 608.00,358.82 608.60,361.38 609.20,363.09 609.80,362.55 610.40,364.59 611.00,365.35 611.60,365.79 612.20,366.33 612.80,366.72 613.40,367.35 614.00,367.57 614.60,368.32 615.20,368.63 615.80,369.31 616.40,369.39 617.00,369.36 617.60,369.68 618.20,369.76 618.80,369.89 619.40,370.02 620.00,370.16" fill="none" stroke="#000050" stroke-width="1.0" stroke-linejoin="round" />
<polygon points="541.00,370.20 541.00,370.20 541.60,370.06 542.20,369.92 542.80,369.78 543.40,369.56 544.00,369.55 544.60,368.90 545.20,368.48 545.80,367.26 546.40,366.51 547.00,366.49 547.60,365.51 548.20,363.58 548.80,363.39 549.40,361.37 550.00,361.38 550.60,358.07 551.20,357.19 551.80,358.24 552.40,354.24 553.00,353.43 553.60,348.74 554.20,348.14 554.80,345.64 555.40,340.76 556.00,340.77 556.60,337.32 557.20,332.15 557.80,326.66 558.40,325.19 559.00,319.09 559.60,317.54 560.20,314.37 560.80,313.95 561.40,308.18 562.00,305.93 562.60,304.25 563.20,303.49 563.80,302.18 564.40,304.06 565.00,302.29 565.60,301.62 566.20,299.27 566.80,299.68 567.40,302.90 568.00,303.88 568.60,301.21 569.20,307.01 569.80,305.11 570.40,309.38 571.00,307.27 571.60,310.17 572.20,309.44 572.80,309.79 573.40,316.22 574.00,314.30 574.60,316.29 575.20,316.33 575.80,318.76 576.40,323.16 577.00,321.39 577.60,325.70 578.20,326.15 578.80,326.41 579.40,329.32 580.00,328.55 580.60,329.19 581.20,333.24 581.80,333.86 582.40,335.90 583.00,334.53 583.60,336.91 584.20,336.34 584.80,340.56 585.40,340.17 586.00,342.64 586.60,344.90 587.20,344.64 587.80,345.09 588.40,346.49 589.00,347.70 589.60,349.17 590.20,351.91 590.80,354.06 591.40,353.15 592.00,354.12 592.60,357.56 593.20,358.51 593.80,357.09 594.40,360.31 595.00,362.32 595.60,362.29 596.20,362.32 596.80,365.37 597.40,365.68 598.00,367.02 598.60,367.32 599.20,367.74 599.80,368.29 600.40,368.20 601.00,369.13 601.60,369.11 602.20,369.25 602.80,369.51 603.40,369.72 604.00,369.90 604.60,370.08 605.00,370.20" fill="rgb(235,12,12)" stroke="none" stroke-width="1" fill-opacity="0.75"/>
<polyline points="541.00,370.20 541.60,370.06 542.20,369.92 542.80,369.78 543.40,369.56 544.00,369.55 544.60,368.90 545.20,368.48 545.80,367.26 546.40,366.51 547.00,366.49 547.60,365.51 548.20,363.58 548.80,363.39 549.40,361.37 550.00,361.38 550.60,358.07 551.20,357.19 551.80,358.24 552.40,354.24 553.00,353.43 553.60,348.74 554.20,348.14 554.80,345.64 555.40,340.76 556.00,340.77 556.60,337.32 557.20,332.15 557.80,326.66 558.40,325.19 559.00,319.09 559.60,317.54 560.20,314.37 560.80,313.95 561.40,308.18 562.00,305.93 562.60,304.25 563.20,303.49 563.80,302.18 564.40,304.06 565.00,302.29 565.60,301.62 566.20,299.27 566.80,299.68 567.40,302.90 568.00,303.88 568.60,301.21 569.20,307.01 569.80,305.11 570.40,309.38 571.00,307.27 571.60,310.17 572.20,309.44 572.80,309.79 573.40,316.22 574.00,314.30 574.60,316.29 575.20,316.33 575.80,318.76 576.40,323.16 577.00,321.39 577.60,325.70 578.20,326.15 578.80,326.41 579.40,329.32 580.00,328.55 580.60,329.19 581.20,333.24 581.80,333.86 582.40,335.90 583.00,334.53 583.60,336.91 584.20,336.34 584.80,340.56 585.40,340.17 586.00,342.64 586.60,344.90 587.20,344.64 587.80,345.09 588.40,346.49 589.00,347.70 589.60,349.17 590.20,351.91 590.80,354.06 591.40,353.15 592.00,354.12 592.60,357.56 593.20,358.51 593.80,357.09 594.40,360.31 595.00,362.32 595.60,362.29 596.20,362.32 596.80,365.37 597.40,365.68 598.00,367.02 598.60,367.32 599.20,367.74 599.80,368.29 600.40,368.20 601.00,369.13 601.60,369.11 602.20,369.25 602.80,369.51 603.40,369.72 604.00,369.90 604.60,370.08" fill="none" stroke="#6a0000" stroke-width="0.7" stroke-linejoin="round" />
<line x1="526" y1="369.6" x2="671.5" y2="369.6" stroke="#c81818" stroke-width="0.9" />
</g>
<rect x="525.8" y="225.1" width="145.7" height="145.1" fill="none" stroke="#333" stroke-width="0.9"/>
<line x1="522.8" y1="237.4" x2="525.8" y2="237.4" stroke="#333" stroke-width="0.7" />
<text x="521.8" y="239.3" font-size="5.3" fill="#222" text-anchor="end" >100</text>
<line x1="522.8" y1="264.2" x2="525.8" y2="264.2" stroke="#333" stroke-width="0.7" />
<text x="521.8" y="266.09999999999997" font-size="5.3" fill="#222" text-anchor="end" >80</text>
<line x1="522.8" y1="290.5" x2="525.8" y2="290.5" stroke="#333" stroke-width="0.7" />
<text x="521.8" y="292.4" font-size="5.3" fill="#222" text-anchor="end" >60</text>
<line x1="522.8" y1="317.1" x2="525.8" y2="317.1" stroke="#333" stroke-width="0.7" />
<text x="521.8" y="319.0" font-size="5.3" fill="#222" text-anchor="end" >40</text>
<line x1="522.8" y1="343.4" x2="525.8" y2="343.4" stroke="#333" stroke-width="0.7" />
<text x="521.8" y="345.29999999999995" font-size="5.3" fill="#222" text-anchor="end" >20</text>
<line x1="522.8" y1="370.2" x2="525.8" y2="370.2" stroke="#333" stroke-width="0.7" />
<text x="521.8" y="372.09999999999997" font-size="5.3" fill="#222" text-anchor="end" >0</text>
<line x1="524" y1="250.68" x2="525.8" y2="250.68" stroke="#333" stroke-width="0.5" />
<line x1="524" y1="277.24" x2="525.8" y2="277.24" stroke="#333" stroke-width="0.5" />
<line x1="524" y1="303.8" x2="525.8" y2="303.8" stroke="#333" stroke-width="0.5" />
<line x1="524" y1="330.36" x2="525.8" y2="330.36" stroke="#333" stroke-width="0.5" />
<line x1="524" y1="356.92" x2="525.8" y2="356.92" stroke="#333" stroke-width="0.5" />
<line x1="562.4" y1="370.2" x2="562.4" y2="373.0" stroke="#333" stroke-width="0.6" />
<text x="562.4" y="380.3" font-size="5.9" fill="#222" text-anchor="middle" >10<tspan dy="-2.4" font-size="4.2">3</tspan></text>
<line x1="572.9360498482393" y1="370.2" x2="572.9360498482393" y2="371.7" stroke="#333" stroke-width="0.4" />
<line x1="579.0992439151881" y1="370.2" x2="579.0992439151881" y2="371.7" stroke="#333" stroke-width="0.4" />
<line x1="583.4720996964786" y1="370.2" x2="583.4720996964786" y2="371.7" stroke="#333" stroke-width="0.4" />
<line x1="586.8639501517606" y1="370.2" x2="586.8639501517606" y2="371.7" stroke="#333" stroke-width="0.4" />
<line x1="589.6352937634275" y1="370.2" x2="589.6352937634275" y2="371.7" stroke="#333" stroke-width="0.4" />
<line x1="591.978431400499" y1="370.2" x2="591.978431400499" y2="371.7" stroke="#333" stroke-width="0.4" />
<line x1="594.008149544718" y1="370.2" x2="594.008149544718" y2="371.7" stroke="#333" stroke-width="0.4" />
<line x1="595.7984878303763" y1="370.2" x2="595.7984878303763" y2="371.7" stroke="#333" stroke-width="0.4" />
<line x1="597.4" y1="370.2" x2="597.4" y2="373.0" stroke="#333" stroke-width="0.6" />
<text x="597.4" y="380.3" font-size="5.9" fill="#222" text-anchor="middle" >10<tspan dy="-2.4" font-size="4.2">4</tspan></text>
<line x1="607.9360498482393" y1="370.2" x2="607.9360498482393" y2="371.7" stroke="#333" stroke-width="0.4" />
<line x1="614.0992439151881" y1="370.2" x2="614.0992439151881" y2="371.7" stroke="#333" stroke-width="0.4" />
<line x1="618.4720996964786" y1="370.2" x2="618.4720996964786" y2="371.7" stroke="#333" stroke-width="0.4" />
<line x1="621.8639501517606" y1="370.2" x2="621.8639501517606" y2="371.7" stroke="#333" stroke-width="0.4" />
<line x1="624.6352937634275" y1="370.2" x2="624.6352937634275" y2="371.7" stroke="#333" stroke-width="0.4" />
<line x1="626.978431400499" y1="370.2" x2="626.978431400499" y2="371.7" stroke="#333" stroke-width="0.4" />
<line x1="629.008149544718" y1="370.2" x2="629.008149544718" y2="371.7" stroke="#333" stroke-width="0.4" />
<line x1="630.7984878303763" y1="370.2" x2="630.7984878303763" y2="371.7" stroke="#333" stroke-width="0.4" />
<line x1="633.9" y1="370.2" x2="633.9" y2="373.0" stroke="#333" stroke-width="0.6" />
<text x="633.9" y="380.3" font-size="5.9" fill="#222" text-anchor="middle" >10<tspan dy="-2.4" font-size="4.2">5</tspan></text>
<line x1="644.4360498482393" y1="370.2" x2="644.4360498482393" y2="371.7" stroke="#333" stroke-width="0.4" />
<line x1="650.5992439151881" y1="370.2" x2="650.5992439151881" y2="371.7" stroke="#333" stroke-width="0.4" />
<line x1="654.9720996964786" y1="370.2" x2="654.9720996964786" y2="371.7" stroke="#333" stroke-width="0.4" />
<line x1="658.3639501517606" y1="370.2" x2="658.3639501517606" y2="371.7" stroke="#333" stroke-width="0.4" />
<line x1="661.1352937634275" y1="370.2" x2="661.1352937634275" y2="371.7" stroke="#333" stroke-width="0.4" />
<line x1="663.478431400499" y1="370.2" x2="663.478431400499" y2="371.7" stroke="#333" stroke-width="0.4" />
<line x1="665.508149544718" y1="370.2" x2="665.508149544718" y2="371.7" stroke="#333" stroke-width="0.4" />
<line x1="667.2984878303763" y1="370.2" x2="667.2984878303763" y2="371.7" stroke="#333" stroke-width="0.4" />
<line x1="670.4" y1="370.2" x2="670.4" y2="373.0" stroke="#333" stroke-width="0.6" />
<text x="670.4" y="380.3" font-size="5.9" fill="#222" text-anchor="middle" >10<tspan dy="-2.4" font-size="4.2">6</tspan></text>
<line x1="537.9360498482393" y1="370.2" x2="537.9360498482393" y2="371.7" stroke="#333" stroke-width="0.4" />
<line x1="544.0992439151881" y1="370.2" x2="544.0992439151881" y2="371.7" stroke="#333" stroke-width="0.4" />
<line x1="548.4720996964786" y1="370.2" x2="548.4720996964786" y2="371.7" stroke="#333" stroke-width="0.4" />
<line x1="551.8639501517606" y1="370.2" x2="551.8639501517606" y2="371.7" stroke="#333" stroke-width="0.4" />
<line x1="554.6352937634275" y1="370.2" x2="554.6352937634275" y2="371.7" stroke="#333" stroke-width="0.4" />
<line x1="556.978431400499" y1="370.2" x2="556.978431400499" y2="371.7" stroke="#333" stroke-width="0.4" />
<line x1="559.008149544718" y1="370.2" x2="559.008149544718" y2="371.7" stroke="#333" stroke-width="0.4" />
<line x1="560.7984878303763" y1="370.2" x2="560.7984878303763" y2="371.7" stroke="#333" stroke-width="0.4" />
<text transform="translate(502.9,294.8) rotate(-90)" x="0" y="0" font-size="12" fill="#000" text-anchor="middle" >cells (x10<tspan dy="-4" font-size="7.5">3</tspan><tspan dy="4">)</tspan></text>
<line x1="544.5" y1="384.8" x2="621" y2="384.8" stroke="#000" stroke-width="1.4" />
<polygon points="627.50,384.80 619.50,380.60 619.50,389.00" fill="#000" stroke="none" stroke-width="1" />
<text x="586.7" y="398" font-size="9.3" fill="#222" text-anchor="middle" letter-spacing="0.15">pY694-STAT5</text>
<rect x="507.8" y="406.2" width="12.8" height="12.8" fill="#e0ded8" stroke="#111" stroke-width="1"/>
<text x="527" y="416.6" font-size="12" fill="#000" text-anchor="start" >C isotype Ab</text>
<rect x="615" y="406.2" width="12.8" height="12.8" fill="#5050b0" stroke="#111" stroke-width="1"/>
<text x="634.6" y="416.6" font-size="12.6" fill="#5c5cc8" text-anchor="start" font-weight="bold" >C + EPO</text>
<rect x="508.2" y="429.3" width="12.8" height="12.8" fill="#d06060" stroke="#111" stroke-width="1"/>
<text x="528.1" y="439.8" font-size="12.45" fill="#e06060" text-anchor="start" font-weight="bold" >4OH-TAM</text>
<rect x="615" y="429.3" width="12.8" height="12.8" fill="#a6d8f8" stroke="#111" stroke-width="1"/>
<text x="634.6" y="439.8" font-size="12.45" fill="#2ca0dc" text-anchor="start" font-weight="bold" >C - EPO</text>
<text x="147.6" y="471.9" font-size="11.7" fill="#000" text-anchor="middle" >HEL</text>
<rect x="92" y="615.9" width="14.900000000000006" height="26.0" fill="#8f8f8f" />
<line x1="99.2" y1="608.3" x2="99.2" y2="615.9" stroke="#555" stroke-width="0.9" />
<line x1="95.7" y1="608.3" x2="102.7" y2="608.3" stroke="#555" stroke-width="0.9" />
<rect x="113.7" y="559" width="14.299999999999997" height="82.89999999999998" fill="#0e4d94" />
<line x1="120.8" y1="541" x2="120.8" y2="559" stroke="#555" stroke-width="0.9" />
<line x1="117.3" y1="541" x2="124.3" y2="541" stroke="#555" stroke-width="0.9" />
<rect x="134.8" y="567.7" width="14.699999999999989" height="74.19999999999993" fill="#cc4c4c" />
<line x1="142.1" y1="558.2" x2="142.1" y2="567.7" stroke="#555" stroke-width="0.9" />
<line x1="138.6" y1="558.2" x2="145.6" y2="558.2" stroke="#555" stroke-width="0.9" />
<rect x="156.6" y="588" width="14.400000000000006" height="53.89999999999998" fill="#951200" />
<line x1="163.6" y1="583" x2="163.6" y2="588" stroke="#555" stroke-width="0.9" />
<line x1="160.1" y1="583" x2="167.1" y2="583" stroke="#555" stroke-width="0.9" />
<rect x="177.9" y="633.1" width="14.199999999999989" height="8.799999999999955" fill="#9e5600" />
<line x1="184.9" y1="628.6" x2="184.9" y2="633.1" stroke="#555" stroke-width="0.9" />
<line x1="181.4" y1="628.6" x2="188.4" y2="628.6" stroke="#555" stroke-width="0.9" />
<circle cx="99.2" cy="601" r="2.1" fill="#000"/>
<circle cx="99.2" cy="619" r="2.1" fill="#000"/>
<circle cx="99.2" cy="627.3" r="2.1" fill="#000"/>
<circle cx="120.8" cy="525.7" r="2.1" fill="#000"/>
<circle cx="120.8" cy="565.9" r="2.1" fill="#000"/>
<circle cx="120.8" cy="585.1" r="2.1" fill="#000"/>
<circle cx="142.1" cy="548.9" r="2.1" fill="#000"/>
<circle cx="137.3" cy="578.9" r="2.1" fill="#000"/>
<circle cx="147.2" cy="575.2" r="2.1" fill="#000"/>
<circle cx="163.4" cy="578.9" r="2.1" fill="#000"/>
<circle cx="163.4" cy="588.6" r="2.1" fill="#000"/>
<circle cx="163.4" cy="595.9" r="2.1" fill="#000"/>
<circle cx="184.9" cy="626.9" r="2.1" fill="#000"/>
<circle cx="184.9" cy="631.7" r="2.1" fill="#000"/>
<circle cx="184.9" cy="639.3" r="2.1" fill="#000"/>
<line x1="85.5" y1="499.29999999999995" x2="85.5" y2="641.9" stroke="#000" stroke-width="1.3" />
<line x1="79.5" y1="499.9" x2="85.5" y2="499.9" stroke="#000" stroke-width="1.3" />
<text x="76.8" y="503.2" font-size="11.5" fill="#000" text-anchor="end" >80</text>
<line x1="79.5" y1="535.5" x2="85.5" y2="535.5" stroke="#000" stroke-width="1.3" />
<text x="76.8" y="538.8" font-size="11.5" fill="#000" text-anchor="end" >60</text>
<line x1="79.5" y1="571" x2="85.5" y2="571" stroke="#000" stroke-width="1.3" />
<text x="76.8" y="574.3" font-size="11.5" fill="#000" text-anchor="end" >40</text>
<line x1="79.5" y1="606.6" x2="85.5" y2="606.6" stroke="#000" stroke-width="1.3" />
<text x="76.8" y="609.9" font-size="11.5" fill="#000" text-anchor="end" >20</text>
<line x1="79.5" y1="642" x2="85.5" y2="642" stroke="#000" stroke-width="1.3" />
<text x="76.8" y="645.3" font-size="11.5" fill="#000" text-anchor="end" >0</text>
<line x1="80" y1="641.9" x2="200" y2="641.9" stroke="#000" stroke-width="1.3" />
<line x1="99.2" y1="641.9" x2="99.2" y2="648.5" stroke="#000" stroke-width="1.3" />
<text x="99.2" y="660.2" font-size="11.4" fill="#000" text-anchor="middle" >0</text>
<text x="99.2" y="679" font-size="11" fill="#000" text-anchor="middle" >-</text>
<line x1="120.8" y1="641.9" x2="120.8" y2="648.5" stroke="#000" stroke-width="1.3" />
<text x="120.8" y="660.2" font-size="11.4" fill="#000" text-anchor="middle" >0</text>
<text x="120.8" y="679" font-size="11" fill="#000" text-anchor="middle" >+</text>
<line x1="142.1" y1="641.9" x2="142.1" y2="648.5" stroke="#000" stroke-width="1.3" />
<text x="142.1" y="660.2" font-size="11.4" fill="#000" text-anchor="middle" >5</text>
<text x="142.1" y="679" font-size="11" fill="#000" text-anchor="middle" >+</text>
<line x1="163.4" y1="641.9" x2="163.4" y2="648.5" stroke="#000" stroke-width="1.3" />
<text x="163.4" y="660.2" font-size="11.4" fill="#000" text-anchor="middle" >10</text>
<text x="163.4" y="679" font-size="11" fill="#000" text-anchor="middle" >+</text>
<line x1="184.9" y1="641.9" x2="184.9" y2="648.5" stroke="#000" stroke-width="1.3" />
<text x="184.9" y="660.2" font-size="11.4" fill="#000" text-anchor="middle" >15</text>
<text x="184.9" y="679" font-size="11" fill="#000" text-anchor="middle" >+</text>
<text x="1.8" y="658.6" font-size="11.4" fill="#000" text-anchor="start" >4OH-TAM (μM)</text>
<text x="47.1" y="678.5" font-size="11.4" fill="#000" text-anchor="start" >THPO</text>
<text transform="translate(46.2,563.8) rotate(-90)" x="0" y="0" font-size="12.45" fill="#000" text-anchor="middle" >pY694-STAT5+ cell (%)</text>
<polyline points="99.30,501.70 99.30,494.70 119.40,494.70 119.40,501.70" fill="none" stroke="#555" stroke-width="0.9" />
<polyline points="122.40,501.70 122.40,494.70 185.10,494.70 185.10,501.70" fill="none" stroke="#555" stroke-width="0.9" />
<text x="108.7" y="488.9" font-size="7.5" fill="#000" text-anchor="middle" >P=0.0407</text>
<text x="149" y="488.9" font-size="7.5" fill="#000" text-anchor="middle" >P=0.0146</text>
<text x="259.3" y="471.7" font-size="12" fill="#000" text-anchor="middle" >SET-2</text>
<rect x="250.1" y="549.8" width="14.099999999999994" height="92.10000000000002" fill="#0e4d94" />
<line x1="257" y1="540.4" x2="257" y2="549.8" stroke="#555" stroke-width="0.9" />
<line x1="253.5" y1="540.4" x2="260.5" y2="540.4" stroke="#555" stroke-width="0.9" />
<rect x="271.5" y="538.9" width="14.199999999999989" height="103.0" fill="#cc4c4c" />
<line x1="278.6" y1="521.8" x2="278.6" y2="538.9" stroke="#555" stroke-width="0.9" />
<line x1="275.1" y1="521.8" x2="282.1" y2="521.8" stroke="#555" stroke-width="0.9" />
<rect x="293.2" y="616.2" width="14.100000000000023" height="25.699999999999932" fill="#951200" />
<line x1="300.2" y1="604.6" x2="300.2" y2="616.2" stroke="#555" stroke-width="0.9" />
<line x1="296.7" y1="604.6" x2="303.7" y2="604.6" stroke="#555" stroke-width="0.9" />
<rect x="314.9" y="627" width="13.900000000000034" height="14.899999999999977" fill="#9e5600" />
<line x1="321.8" y1="621.4" x2="321.8" y2="627" stroke="#555" stroke-width="0.9" />
<line x1="318.3" y1="621.4" x2="325.3" y2="621.4" stroke="#555" stroke-width="0.9" />
<circle cx="230.6" cy="641.6" r="2.1" fill="#000"/>
<circle cx="235.6" cy="641" r="2.1" fill="#000"/>
<circle cx="240.4" cy="641.6" r="2.1" fill="#000"/>
<circle cx="256.9" cy="531.3" r="2.1" fill="#000"/>
<circle cx="251.8" cy="560.1" r="2.1" fill="#000"/>
<circle cx="261.7" cy="558" r="2.1" fill="#000"/>
<circle cx="278.8" cy="516.1" r="2.1" fill="#000"/>
<circle cx="278.8" cy="528.3" r="2.1" fill="#000"/>
<circle cx="278.8" cy="571.7" r="2.1" fill="#000"/>
<circle cx="300" cy="594.5" r="2.1" fill="#000"/>
<circle cx="300" cy="619.3" r="2.1" fill="#000"/>
<circle cx="300" cy="635.3" r="2.1" fill="#000"/>
<circle cx="321.8" cy="616.2" r="2.1" fill="#000"/>
<circle cx="321.8" cy="628" r="2.1" fill="#000"/>
<circle cx="321.8" cy="636.3" r="2.1" fill="#000"/>
<line x1="221.6" y1="499.0" x2="221.6" y2="641.9" stroke="#000" stroke-width="1.3" />
<line x1="215.6" y1="499.6" x2="221.6" y2="499.6" stroke="#000" stroke-width="1.3" />
<text x="212.5" y="503.1" font-size="11.5" fill="#000" text-anchor="end" >30</text>
<line x1="215.6" y1="547" x2="221.6" y2="547" stroke="#000" stroke-width="1.3" />
<text x="212.5" y="550.5" font-size="11.5" fill="#000" text-anchor="end" >20</text>
<line x1="215.6" y1="594.7" x2="221.6" y2="594.7" stroke="#000" stroke-width="1.3" />
<text x="212.5" y="598.2" font-size="11.5" fill="#000" text-anchor="end" >10</text>
<line x1="215.6" y1="642" x2="221.6" y2="642" stroke="#000" stroke-width="1.3" />
<text x="212.5" y="645.5" font-size="11.5" fill="#000" text-anchor="end" >0</text>
<line x1="215.5" y1="641.9" x2="336.7" y2="641.9" stroke="#000" stroke-width="1.3" />
<line x1="235.2" y1="641.9" x2="235.2" y2="648.5" stroke="#000" stroke-width="1.3" />
<text x="235.2" y="661" font-size="11.4" fill="#000" text-anchor="middle" >0</text>
<text x="235.2" y="679" font-size="11" fill="#000" text-anchor="middle" >-</text>
<line x1="256.9" y1="641.9" x2="256.9" y2="648.5" stroke="#000" stroke-width="1.3" />
<text x="256.9" y="661" font-size="11.4" fill="#000" text-anchor="middle" >0</text>
<text x="256.9" y="679" font-size="11" fill="#000" text-anchor="middle" >+</text>
<line x1="278.3" y1="641.9" x2="278.3" y2="648.5" stroke="#000" stroke-width="1.3" />
<text x="278.3" y="661" font-size="11.4" fill="#000" text-anchor="middle" >5</text>
<text x="278.3" y="679" font-size="11" fill="#000" text-anchor="middle" >+</text>
<line x1="300" y1="641.9" x2="300" y2="648.5" stroke="#000" stroke-width="1.3" />
<text x="300" y="661" font-size="11.4" fill="#000" text-anchor="middle" >10</text>
<text x="300" y="679" font-size="11" fill="#000" text-anchor="middle" >+</text>
<line x1="321.8" y1="641.9" x2="321.8" y2="648.5" stroke="#000" stroke-width="1.3" />
<text x="321.8" y="661" font-size="11.4" fill="#000" text-anchor="middle" >15</text>
<text x="321.8" y="679" font-size="11" fill="#000" text-anchor="middle" >+</text>
<polyline points="235.50,501.10 235.50,494.30 255.40,494.30 255.40,501.10" fill="none" stroke="#555" stroke-width="0.9" />
<polyline points="258.50,501.10 258.50,494.30 300.60,494.30 300.60,499.60" fill="none" stroke="#555" stroke-width="0.9" />
<polyline points="258.50,515.70 258.50,509.10 321.50,509.10 321.50,515.70" fill="none" stroke="#555" stroke-width="0.9" />
<text x="239.4" y="490.7" font-size="7.6" fill="#000" text-anchor="middle" >P=0.0006</text>
<text x="280" y="490.7" font-size="7.6" fill="#000" text-anchor="middle" >P=0.0115</text>
<text x="289.5" y="506.2" font-size="7.6" fill="#000" text-anchor="middle" >P=0.0021</text>
<text x="457.5" y="491.8" font-size="12" fill="#000" text-anchor="middle" >HEL</text>
<text x="609.3" y="491.8" font-size="12" fill="#000" text-anchor="middle" >SET-2</text>
<g clip-path="url(#clipG1)">
<polygon points="385.80,635.30 385.80,619.53 386.40,627.15 387.00,618.06 387.60,607.98 388.20,607.36 388.80,602.17 389.40,595.75 390.00,591.17 390.60,587.74 391.20,581.57 391.80,581.18 392.40,573.39 393.00,566.04 393.60,564.14 394.20,561.82 394.80,557.72 395.40,550.83 396.00,544.33 396.60,533.86 397.20,529.13 397.80,526.45 398.40,530.38 399.00,528.78 399.60,530.05 400.20,529.84 400.80,528.34 401.40,531.05 402.00,525.59 402.60,526.73 403.20,526.17 403.80,530.79 404.40,529.92 405.00,530.92 405.60,530.03 406.20,535.02 406.80,535.43 407.40,539.73 408.00,543.42 408.60,547.99 409.20,559.07 409.80,561.97 410.40,570.08 411.00,579.12 411.60,586.33 412.20,591.12 412.80,597.79 413.40,603.39 414.00,607.76 414.60,620.06 415.20,628.37 415.80,635.30" fill="url(#hatch)" stroke="none" stroke-width="1" />
<polyline points="385.80,619.53 386.40,627.15 387.00,618.06 387.60,607.98 388.20,607.36 388.80,602.17 389.40,595.75 390.00,591.17 390.60,587.74 391.20,581.57 391.80,581.18 392.40,573.39 393.00,566.04 393.60,564.14 394.20,561.82 394.80,557.72 395.40,550.83 396.00,544.33 396.60,533.86 397.20,529.13 397.80,526.45 398.40,530.38 399.00,528.78 399.60,530.05 400.20,529.84 400.80,528.34 401.40,531.05 402.00,525.59 402.60,526.73 403.20,526.17 403.80,530.79 404.40,529.92 405.00,530.92 405.60,530.03 406.20,535.02 406.80,535.43 407.40,539.73 408.00,543.42 408.60,547.99 409.20,559.07 409.80,561.97 410.40,570.08 411.00,579.12 411.60,586.33 412.20,591.12 412.80,597.79 413.40,603.39 414.00,607.76 414.60,620.06 415.20,628.37" fill="none" stroke="#111" stroke-width="1.3" stroke-linejoin="round" />
<polygon points="415.00,635.30 415.00,635.30 415.60,632.82 416.20,628.31 416.80,624.53 417.40,624.96 418.00,618.94 418.60,617.67 419.20,615.61 419.80,612.92 420.40,608.03 421.00,604.83 421.60,598.54 422.20,597.23 422.80,591.67 423.40,590.02 424.00,587.44 424.60,582.76 425.20,578.96 425.80,575.95 426.40,569.94 427.00,564.20 427.60,560.19 428.20,549.48 428.80,546.99 429.40,545.70 430.00,541.15 430.60,540.05 431.20,533.33 431.80,530.05 432.40,528.61 433.00,526.51 433.60,519.79 434.20,517.40 434.80,513.75 435.40,514.60 436.00,506.69 436.60,507.16 437.20,508.88 437.80,511.81 438.40,512.87 439.00,521.52 439.60,522.71 440.20,526.44 440.80,536.09 441.40,539.80 442.00,545.84 442.60,552.18 443.20,559.09 443.80,565.00 444.40,569.13 445.00,578.59 445.60,583.65 446.20,590.37 446.80,593.46 447.40,600.12 448.00,603.40 448.60,608.00 449.20,612.93 449.80,616.94 450.40,620.48 451.00,624.73 451.60,626.77 452.20,630.30 452.80,633.31 453.40,633.97 454.00,634.43 454.60,634.90 455.00,635.30" fill="#d8d8d8" stroke="none" stroke-width="1" />
<polyline points="415.00,635.30 415.60,632.82 416.20,628.31 416.80,624.53 417.40,624.96 418.00,618.94 418.60,617.67 419.20,615.61 419.80,612.92 420.40,608.03 421.00,604.83 421.60,598.54 422.20,597.23 422.80,591.67 423.40,590.02 424.00,587.44 424.60,582.76 425.20,578.96 425.80,575.95 426.40,569.94 427.00,564.20 427.60,560.19 428.20,549.48 428.80,546.99 429.40,545.70 430.00,541.15 430.60,540.05 431.20,533.33 431.80,530.05 432.40,528.61 433.00,526.51 433.60,519.79 434.20,517.40 434.80,513.75 435.40,514.60 436.00,506.69 436.60,507.16 437.20,508.88 437.80,511.81 438.40,512.87 439.00,521.52 439.60,522.71 440.20,526.44 440.80,536.09 441.40,539.80 442.00,545.84 442.60,552.18 443.20,559.09 443.80,565.00 444.40,569.13 445.00,578.59 445.60,583.65 446.20,590.37 446.80,593.46 447.40,600.12 448.00,603.40 448.60,608.00 449.20,612.93 449.80,616.94 450.40,620.48 451.00,624.73 451.60,626.77 452.20,630.30 452.80,633.31 453.40,633.97 454.00,634.43 454.60,634.90" fill="none" stroke="#444" stroke-width="0.9" stroke-linejoin="round" />
<polygon points="400.00,635.30 400.00,635.30 400.60,635.16 401.20,635.01 401.80,634.87 402.40,634.82 403.00,634.71 403.60,634.57 404.20,634.14 404.80,633.76 405.40,633.03 406.00,632.53 406.60,631.39 407.20,630.80 407.80,630.60 408.40,629.65 409.00,629.74 409.60,628.29 410.20,627.97 410.80,629.25 411.40,628.03 412.00,628.05 412.60,628.53 413.20,627.09 413.80,625.82 414.40,628.08 415.00,627.19 415.60,627.20 416.20,626.89 416.80,628.03 417.40,625.83 418.00,627.13 418.60,625.69 419.20,626.32 419.80,626.55 420.40,625.26 421.00,624.38 421.60,625.78 422.20,626.73 422.80,626.38 423.40,625.98 424.00,626.76 424.60,625.26 425.20,625.35 425.80,625.95 426.40,627.76 427.00,625.71 427.60,625.54 428.20,625.58 428.80,625.28 429.40,625.90 430.00,626.73 430.60,627.40 431.20,625.50 431.80,625.44 432.40,624.95 433.00,624.81 433.60,626.16 434.20,625.03 434.80,623.67 435.40,622.81 436.00,624.90 436.60,624.31 437.20,624.18 437.80,621.22 438.40,621.53 439.00,622.10 439.60,620.07 440.20,617.64 440.80,616.31 441.40,615.21 442.00,616.83 442.60,616.35 443.20,614.33 443.80,614.19 444.40,614.10 445.00,607.93 445.60,604.95 446.20,604.02 446.80,595.61 447.40,591.03 448.00,589.46 448.60,582.60 449.20,577.46 449.80,573.94 450.40,567.89 451.00,559.05 451.60,555.45 452.20,546.26 452.80,541.43 453.40,536.47 454.00,529.97 454.60,526.33 455.20,526.33 455.80,522.78 456.40,521.67 457.00,523.18 457.60,524.02 458.20,523.29 458.80,529.59 459.40,531.88 460.00,533.14 460.60,536.67 461.20,539.42 461.80,546.54 462.40,551.89 463.00,557.63 463.60,562.34 464.20,571.17 464.80,576.48 465.40,579.99 466.00,582.96 466.60,587.41 467.20,592.16 467.80,596.87 468.40,600.44 469.00,602.74 469.60,605.34 470.20,609.42 470.80,612.51 471.40,614.17 472.00,617.40 472.60,618.68 473.20,620.62 473.80,625.25 474.40,625.94 475.00,625.05 475.60,628.64 476.20,628.00 476.80,629.31 477.40,629.96 478.00,632.13 478.60,631.65 479.20,632.86 479.80,632.95 480.40,633.61 481.00,633.80 481.60,634.20 482.20,634.87 482.80,635.23 482.90,635.30" fill="#4646f2" stroke="none" stroke-width="1" />
<polyline points="400.00,635.30 400.60,635.16 401.20,635.01 401.80,634.87 402.40,634.82 403.00,634.71 403.60,634.57 404.20,634.14 404.80,633.76 405.40,633.03 406.00,632.53 406.60,631.39 407.20,630.80 407.80,630.60 408.40,629.65 409.00,629.74 409.60,628.29 410.20,627.97 410.80,629.25 411.40,628.03 412.00,628.05 412.60,628.53 413.20,627.09 413.80,625.82 414.40,628.08 415.00,627.19 415.60,627.20 416.20,626.89 416.80,628.03 417.40,625.83 418.00,627.13 418.60,625.69 419.20,626.32 419.80,626.55 420.40,625.26 421.00,624.38 421.60,625.78 422.20,626.73 422.80,626.38 423.40,625.98 424.00,626.76 424.60,625.26 425.20,625.35 425.80,625.95 426.40,627.76 427.00,625.71 427.60,625.54 428.20,625.58 428.80,625.28 429.40,625.90 430.00,626.73 430.60,627.40 431.20,625.50 431.80,625.44 432.40,624.95 433.00,624.81 433.60,626.16 434.20,625.03 434.80,623.67 435.40,622.81 436.00,624.90 436.60,624.31 437.20,624.18 437.80,621.22 438.40,621.53 439.00,622.10 439.60,620.07 440.20,617.64 440.80,616.31 441.40,615.21 442.00,616.83 442.60,616.35 443.20,614.33 443.80,614.19 444.40,614.10 445.00,607.93 445.60,604.95 446.20,604.02 446.80,595.61 447.40,591.03 448.00,589.46 448.60,582.60 449.20,577.46 449.80,573.94 450.40,567.89 451.00,559.05 451.60,555.45 452.20,546.26 452.80,541.43 453.40,536.47 454.00,529.97 454.60,526.33 455.20,526.33 455.80,522.78 456.40,521.67 457.00,523.18 457.60,524.02 458.20,523.29 458.80,529.59 459.40,531.88 460.00,533.14 460.60,536.67 461.20,539.42 461.80,546.54 462.40,551.89 463.00,557.63 463.60,562.34 464.20,571.17 464.80,576.48 465.40,579.99 466.00,582.96 466.60,587.41 467.20,592.16 467.80,596.87 468.40,600.44 469.00,602.74 469.60,605.34 470.20,609.42 470.80,612.51 471.40,614.17 472.00,617.40 472.60,618.68 473.20,620.62 473.80,625.25 474.40,625.94 475.00,625.05 475.60,628.64 476.20,628.00 476.80,629.31 477.40,629.96 478.00,632.13 478.60,631.65 479.20,632.86 479.80,632.95 480.40,633.61 481.00,633.80 481.60,634.20 482.20,634.87 482.80,635.23" fill="none" stroke="#000050" stroke-width="0.9" stroke-linejoin="round" />
<polygon points="404.00,635.30 404.00,635.30 404.60,634.79 405.20,634.33 405.80,633.45 406.40,633.49 407.00,632.23 407.60,632.19 408.20,630.85 408.80,631.30 409.40,629.53 410.00,629.86 410.60,629.18 411.20,628.57 411.80,626.82 412.40,627.36 413.00,626.16 413.60,620.88 414.20,619.80 414.80,618.15 415.40,611.75 416.00,603.56 416.60,599.86 417.20,591.20 417.80,585.78 418.40,581.16 419.00,571.73 419.60,561.33 420.20,560.94 420.80,555.29 421.40,545.07 422.00,540.35 422.60,532.39 423.20,528.03 423.80,525.12 424.40,518.36 425.00,515.38 425.60,510.86 426.20,509.16 426.80,511.32 427.40,514.18 428.00,516.28 428.60,519.45 429.20,525.79 429.80,532.01 430.40,532.06 431.00,538.43 431.60,542.45 432.20,550.21 432.80,554.16 433.40,558.28 434.00,561.81 434.60,566.70 435.20,574.40 435.80,575.94 436.40,581.26 437.00,584.39 437.60,590.41 438.20,591.72 438.80,595.19 439.40,597.35 440.00,600.74 440.60,606.82 441.20,609.92 441.80,611.10 442.40,612.07 443.00,614.55 443.60,618.77 444.20,619.48 444.80,623.75 445.40,624.76 446.00,623.93 446.60,625.60 447.20,626.99 447.80,629.41 448.40,629.16 449.00,631.12 449.60,631.19 450.20,632.06 450.80,632.14 451.40,633.13 452.00,633.57 452.60,634.26 453.20,634.42 453.80,634.75 454.40,634.82 455.00,635.00 455.60,635.18 456.00,635.30" fill="rgb(235,12,12)" stroke="none" stroke-width="1" fill-opacity="0.72"/>
<polyline points="404.00,635.30 404.60,634.79 405.20,634.33 405.80,633.45 406.40,633.49 407.00,632.23 407.60,632.19 408.20,630.85 408.80,631.30 409.40,629.53 410.00,629.86 410.60,629.18 411.20,628.57 411.80,626.82 412.40,627.36 413.00,626.16 413.60,620.88 414.20,619.80 414.80,618.15 415.40,611.75 416.00,603.56 416.60,599.86 417.20,591.20 417.80,585.78 418.40,581.16 419.00,571.73 419.60,561.33 420.20,560.94 420.80,555.29 421.40,545.07 422.00,540.35 422.60,532.39 423.20,528.03 423.80,525.12 424.40,518.36 425.00,515.38 425.60,510.86 426.20,509.16 426.80,511.32 427.40,514.18 428.00,516.28 428.60,519.45 429.20,525.79 429.80,532.01 430.40,532.06 431.00,538.43 431.60,542.45 432.20,550.21 432.80,554.16 433.40,558.28 434.00,561.81 434.60,566.70 435.20,574.40 435.80,575.94 436.40,581.26 437.00,584.39 437.60,590.41 438.20,591.72 438.80,595.19 439.40,597.35 440.00,600.74 440.60,606.82 441.20,609.92 441.80,611.10 442.40,612.07 443.00,614.55 443.60,618.77 444.20,619.48 444.80,623.75 445.40,624.76 446.00,623.93 446.60,625.60 447.20,626.99 447.80,629.41 448.40,629.16 449.00,631.12 449.60,631.19 450.20,632.06 450.80,632.14 451.40,633.13 452.00,633.57 452.60,634.26 453.20,634.42 453.80,634.75 454.40,634.82 455.00,635.00 455.60,635.18" fill="none" stroke="#6a0000" stroke-width="0.7" stroke-linejoin="round" />
<line x1="386" y1="634.7" x2="520.4" y2="634.7" stroke="#c81818" stroke-width="0.9" />
</g>
<rect x="385.8" y="502.6" width="134.6" height="132.7" fill="none" stroke="#333" stroke-width="0.9"/>
<line x1="383" y1="535.4" x2="385.8" y2="535.4" stroke="#333" stroke-width="0.7" />
<text x="382" y="537.3" font-size="5.3" fill="#222" text-anchor="end" >60</text>
<line x1="383" y1="568.5" x2="385.8" y2="568.5" stroke="#333" stroke-width="0.7" />
<text x="382" y="570.4" font-size="5.3" fill="#222" text-anchor="end" >40</text>
<line x1="383" y1="602.2" x2="385.8" y2="602.2" stroke="#333" stroke-width="0.7" />
<text x="382" y="604.1" font-size="5.3" fill="#222" text-anchor="end" >20</text>
<line x1="383" y1="635.3" x2="385.8" y2="635.3" stroke="#333" stroke-width="0.7" />
<text x="382" y="637.1999999999999" font-size="5.3" fill="#222" text-anchor="end" >0</text>
<line x1="384.3" y1="518.8" x2="385.8" y2="518.8" stroke="#333" stroke-width="0.5" />
<line x1="384.3" y1="552.0999999999999" x2="385.8" y2="552.0999999999999" stroke="#333" stroke-width="0.5" />
<line x1="384.3" y1="585.4" x2="385.8" y2="585.4" stroke="#333" stroke-width="0.5" />
<line x1="384.3" y1="618.6999999999999" x2="385.8" y2="618.6999999999999" stroke="#333" stroke-width="0.5" />
<line x1="418.9" y1="635.3" x2="418.9" y2="638.0999999999999" stroke="#333" stroke-width="0.6" />
<text x="418.9" y="645.2" font-size="5.9" fill="#222" text-anchor="middle" >10<tspan dy="-2.4" font-size="4.2">3</tspan></text>
<line x1="428.8640928564778" y1="635.3" x2="428.8640928564778" y2="636.8" stroke="#333" stroke-width="0.4" />
<line x1="434.6927135312208" y1="635.3" x2="434.6927135312208" y2="636.8" stroke="#333" stroke-width="0.4" />
<line x1="438.82818571295553" y1="635.3" x2="438.82818571295553" y2="636.8" stroke="#333" stroke-width="0.4" />
<line x1="442.0359071435222" y1="635.3" x2="442.0359071435222" y2="636.8" stroke="#333" stroke-width="0.4" />
<line x1="444.6568063876986" y1="635.3" x2="444.6568063876986" y2="636.8" stroke="#333" stroke-width="0.4" />
<line x1="446.8727451244719" y1="635.3" x2="446.8727451244719" y2="636.8" stroke="#333" stroke-width="0.4" />
<line x1="448.79227856943334" y1="635.3" x2="448.79227856943334" y2="636.8" stroke="#333" stroke-width="0.4" />
<line x1="450.48542706244166" y1="635.3" x2="450.48542706244166" y2="636.8" stroke="#333" stroke-width="0.4" />
<line x1="452" y1="635.3" x2="452" y2="638.0999999999999" stroke="#333" stroke-width="0.6" />
<text x="452" y="645.2" font-size="5.9" fill="#222" text-anchor="middle" >10<tspan dy="-2.4" font-size="4.2">4</tspan></text>
<line x1="461.9640928564778" y1="635.3" x2="461.9640928564778" y2="636.8" stroke="#333" stroke-width="0.4" />
<line x1="467.79271353122084" y1="635.3" x2="467.79271353122084" y2="636.8" stroke="#333" stroke-width="0.4" />
<line x1="471.92818571295555" y1="635.3" x2="471.92818571295555" y2="636.8" stroke="#333" stroke-width="0.4" />
<line x1="475.1359071435222" y1="635.3" x2="475.1359071435222" y2="636.8" stroke="#333" stroke-width="0.4" />
<line x1="477.75680638769865" y1="635.3" x2="477.75680638769865" y2="636.8" stroke="#333" stroke-width="0.4" />
<line x1="479.97274512447194" y1="635.3" x2="479.97274512447194" y2="636.8" stroke="#333" stroke-width="0.4" />
<line x1="481.89227856943336" y1="635.3" x2="481.89227856943336" y2="636.8" stroke="#333" stroke-width="0.4" />
<line x1="483.5854270624417" y1="635.3" x2="483.5854270624417" y2="636.8" stroke="#333" stroke-width="0.4" />
<line x1="485.4" y1="635.3" x2="485.4" y2="638.0999999999999" stroke="#333" stroke-width="0.6" />
<text x="485.4" y="645.2" font-size="5.9" fill="#222" text-anchor="middle" >10<tspan dy="-2.4" font-size="4.2">5</tspan></text>
<line x1="495.3640928564778" y1="635.3" x2="495.3640928564778" y2="636.8" stroke="#333" stroke-width="0.4" />
<line x1="501.1927135312208" y1="635.3" x2="501.1927135312208" y2="636.8" stroke="#333" stroke-width="0.4" />
<line x1="505.32818571295553" y1="635.3" x2="505.32818571295553" y2="636.8" stroke="#333" stroke-width="0.4" />
<line x1="508.5359071435222" y1="635.3" x2="508.5359071435222" y2="636.8" stroke="#333" stroke-width="0.4" />
<line x1="511.1568063876986" y1="635.3" x2="511.1568063876986" y2="636.8" stroke="#333" stroke-width="0.4" />
<line x1="513.3727451244719" y1="635.3" x2="513.3727451244719" y2="636.8" stroke="#333" stroke-width="0.4" />
<line x1="515.2922785694333" y1="635.3" x2="515.2922785694333" y2="636.8" stroke="#333" stroke-width="0.4" />
<line x1="516.9854270624417" y1="635.3" x2="516.9854270624417" y2="636.8" stroke="#333" stroke-width="0.4" />
<line x1="518.5" y1="635.3" x2="518.5" y2="638.0999999999999" stroke="#333" stroke-width="0.6" />
<text x="518.5" y="645.2" font-size="5.9" fill="#222" text-anchor="middle" >10<tspan dy="-2.4" font-size="4.2">6</tspan></text>
<g clip-path="url(#clipG2)">
<polygon points="538.20,635.50 538.20,635.50 538.80,617.00 539.40,619.33 540.00,615.11 540.60,616.51 541.20,614.85 541.80,610.33 542.40,609.42 543.00,608.02 543.60,605.56 544.20,598.33 544.80,595.99 545.40,591.83 546.00,590.45 546.60,588.83 547.20,581.16 547.80,580.39 548.40,571.07 549.00,572.81 549.60,564.72 550.20,564.94 550.80,561.11 551.40,553.82 552.00,552.57 552.60,551.45 553.20,550.21 553.80,546.80 554.40,538.53 555.00,537.05 555.60,532.31 556.20,533.38 556.80,528.51 557.40,534.59 558.00,537.33 558.60,535.89 559.20,538.37 559.80,540.12 560.40,545.62 561.00,547.94 561.60,556.30 562.20,558.75 562.80,562.31 563.40,570.62 564.00,571.10 564.60,583.40 565.20,590.70 565.80,591.22 566.40,600.23 567.00,599.74 567.60,605.87 568.20,608.21 568.80,614.03 569.40,616.08 570.00,622.31 570.60,623.70 571.20,627.04 571.80,631.77 572.40,635.50" fill="url(#hatch)" stroke="none" stroke-width="1" />
<polyline points="538.20,635.50 538.80,617.00 539.40,619.33 540.00,615.11 540.60,616.51 541.20,614.85 541.80,610.33 542.40,609.42 543.00,608.02 543.60,605.56 544.20,598.33 544.80,595.99 545.40,591.83 546.00,590.45 546.60,588.83 547.20,581.16 547.80,580.39 548.40,571.07 549.00,572.81 549.60,564.72 550.20,564.94 550.80,561.11 551.40,553.82 552.00,552.57 552.60,551.45 553.20,550.21 553.80,546.80 554.40,538.53 555.00,537.05 555.60,532.31 556.20,533.38 556.80,528.51 557.40,534.59 558.00,537.33 558.60,535.89 559.20,538.37 559.80,540.12 560.40,545.62 561.00,547.94 561.60,556.30 562.20,558.75 562.80,562.31 563.40,570.62 564.00,571.10 564.60,583.40 565.20,590.70 565.80,591.22 566.40,600.23 567.00,599.74 567.60,605.87 568.20,608.21 568.80,614.03 569.40,616.08 570.00,622.31 570.60,623.70 571.20,627.04 571.80,631.77" fill="none" stroke="#111" stroke-width="1.3" stroke-linejoin="round" />
<polygon points="570.00,635.50 570.00,635.50 570.60,633.33 571.20,631.35 571.80,629.46 572.40,629.33 573.00,626.19 573.60,625.13 574.20,621.02 574.80,620.65 575.40,618.93 576.00,615.79 576.60,608.02 577.20,603.12 577.80,604.74 578.40,601.71 579.00,593.98 579.60,593.29 580.20,584.33 580.80,581.20 581.40,574.92 582.00,568.10 582.60,565.36 583.20,558.43 583.80,552.50 584.40,545.02 585.00,539.43 585.60,531.48 586.20,530.84 586.80,523.86 587.40,517.94 588.00,514.98 588.60,506.75 589.20,511.05 589.80,512.16 590.40,517.53 591.00,519.26 591.60,521.28 592.20,529.92 592.80,537.45 593.40,542.86 594.00,551.16 594.60,556.03 595.20,569.54 595.80,577.97 596.40,582.62 597.00,595.42 597.60,601.46 598.20,611.19 598.80,618.63 599.40,629.42 600.00,635.50" fill="#d8d8d8" stroke="none" stroke-width="1" />
<polyline points="570.00,635.50 570.60,633.33 571.20,631.35 571.80,629.46 572.40,629.33 573.00,626.19 573.60,625.13 574.20,621.02 574.80,620.65 575.40,618.93 576.00,615.79 576.60,608.02 577.20,603.12 577.80,604.74 578.40,601.71 579.00,593.98 579.60,593.29 580.20,584.33 580.80,581.20 581.40,574.92 582.00,568.10 582.60,565.36 583.20,558.43 583.80,552.50 584.40,545.02 585.00,539.43 585.60,531.48 586.20,530.84 586.80,523.86 587.40,517.94 588.00,514.98 588.60,506.75 589.20,511.05 589.80,512.16 590.40,517.53 591.00,519.26 591.60,521.28 592.20,529.92 592.80,537.45 593.40,542.86 594.00,551.16 594.60,556.03 595.20,569.54 595.80,577.97 596.40,582.62 597.00,595.42 597.60,601.46 598.20,611.19 598.80,618.63 599.40,629.42" fill="none" stroke="#444" stroke-width="0.9" stroke-linejoin="round" />
<polygon points="565.00,635.50 565.00,635.50 565.60,635.10 566.20,634.72 566.80,634.36 567.40,634.10 568.00,633.32 568.60,633.11 569.20,632.90 569.80,632.47 570.40,630.79 571.00,631.08 571.60,630.35 572.20,629.33 572.80,629.93 573.40,627.88 574.00,626.83 574.60,627.80 575.20,625.91 575.80,623.88 576.40,623.05 577.00,622.87 577.60,620.39 578.20,621.58 578.80,620.82 579.40,619.81 580.00,617.25 580.60,612.35 581.20,613.27 581.80,614.31 582.40,609.68 583.00,608.85 583.60,606.55 584.20,606.52 584.80,603.84 585.40,606.46 586.00,603.79 586.60,599.09 587.20,599.16 587.80,599.00 588.40,600.27 589.00,598.62 589.60,598.11 590.20,594.02 590.80,594.66 591.40,590.40 592.00,586.95 592.60,585.49 593.20,580.70 593.80,572.20 594.40,571.91 595.00,571.61 595.60,569.59 596.20,569.27 596.80,570.81 597.40,565.92 598.00,569.18 598.60,564.44 599.20,567.16 599.80,563.98 600.40,564.44 601.00,562.60 601.60,561.52 602.20,563.53 602.80,563.60 603.40,566.90 604.00,567.97 604.60,566.17 605.20,570.78 605.80,570.41 606.40,573.19 607.00,577.33 607.60,580.39 608.20,576.69 608.80,580.78 609.40,584.77 610.00,579.68 610.60,589.63 611.20,589.21 611.80,595.65 612.40,598.93 613.00,601.27 613.60,598.22 614.20,606.42 614.80,607.22 615.40,610.64 616.00,613.60 616.60,614.67 617.20,616.52 617.80,619.84 618.40,624.18 619.00,625.13 619.60,626.71 620.20,629.12 620.80,630.06 621.40,630.21 622.00,630.86 622.60,631.78 623.20,632.31 623.80,632.70 624.40,633.26 625.00,633.90 625.60,633.52 626.20,634.00 626.80,634.16 627.40,634.31 628.00,634.67 628.60,634.70 629.20,634.87 629.80,635.07 630.40,635.15 631.00,635.23 631.60,635.31 632.20,635.39 632.80,635.47 633.00,635.50" fill="#4646f2" stroke="none" stroke-width="1" />
<polyline points="565.00,635.50 565.60,635.10 566.20,634.72 566.80,634.36 567.40,634.10 568.00,633.32 568.60,633.11 569.20,632.90 569.80,632.47 570.40,630.79 571.00,631.08 571.60,630.35 572.20,629.33 572.80,629.93 573.40,627.88 574.00,626.83 574.60,627.80 575.20,625.91 575.80,623.88 576.40,623.05 577.00,622.87 577.60,620.39 578.20,621.58 578.80,620.82 579.40,619.81 580.00,617.25 580.60,612.35 581.20,613.27 581.80,614.31 582.40,609.68 583.00,608.85 583.60,606.55 584.20,606.52 584.80,603.84 585.40,606.46 586.00,603.79 586.60,599.09 587.20,599.16 587.80,599.00 588.40,600.27 589.00,598.62 589.60,598.11 590.20,594.02 590.80,594.66 591.40,590.40 592.00,586.95 592.60,585.49 593.20,580.70 593.80,572.20 594.40,571.91 595.00,571.61 595.60,569.59 596.20,569.27 596.80,570.81 597.40,565.92 598.00,569.18 598.60,564.44 599.20,567.16 599.80,563.98 600.40,564.44 601.00,562.60 601.60,561.52 602.20,563.53 602.80,563.60 603.40,566.90 604.00,567.97 604.60,566.17 605.20,570.78 605.80,570.41 606.40,573.19 607.00,577.33 607.60,580.39 608.20,576.69 608.80,580.78 609.40,584.77 610.00,579.68 610.60,589.63 611.20,589.21 611.80,595.65 612.40,598.93 613.00,601.27 613.60,598.22 614.20,606.42 614.80,607.22 615.40,610.64 616.00,613.60 616.60,614.67 617.20,616.52 617.80,619.84 618.40,624.18 619.00,625.13 619.60,626.71 620.20,629.12 620.80,630.06 621.40,630.21 622.00,630.86 622.60,631.78 623.20,632.31 623.80,632.70 624.40,633.26 625.00,633.90 625.60,633.52 626.20,634.00 626.80,634.16 627.40,634.31 628.00,634.67 628.60,634.70 629.20,634.87 629.80,635.07 630.40,635.15 631.00,635.23 631.60,635.31 632.20,635.39 632.80,635.47" fill="none" stroke="#000050" stroke-width="0.9" stroke-linejoin="round" />
<polygon points="555.00,635.50 555.00,635.50 555.60,635.32 556.20,635.14 556.80,634.97 557.40,634.80 558.00,634.71 558.60,634.57 559.20,634.41 559.80,633.99 560.40,633.91 561.00,632.93 561.60,632.18 562.20,631.25 562.80,631.22 563.40,629.97 564.00,629.53 564.60,627.97 565.20,626.14 565.80,623.71 566.40,618.10 567.00,615.60 567.60,611.85 568.20,606.36 568.80,600.44 569.40,595.32 570.00,592.39 570.60,585.33 571.20,578.54 571.80,574.17 572.40,569.32 573.00,561.46 573.60,561.32 574.20,554.46 574.80,549.88 575.40,544.94 576.00,545.95 576.60,539.63 577.20,535.03 577.80,530.62 578.40,528.42 579.00,527.92 579.60,528.80 580.20,528.91 580.80,532.34 581.40,535.08 582.00,535.75 582.60,540.77 583.20,546.65 583.80,548.05 584.40,551.34 585.00,556.06 585.60,556.87 586.20,561.14 586.80,565.82 587.40,568.16 588.00,570.64 588.60,570.58 589.20,577.65 589.80,579.47 590.40,578.85 591.00,583.80 591.60,584.97 592.20,589.84 592.80,592.79 593.40,595.02 594.00,597.22 594.60,600.06 595.20,602.61 595.80,605.20 596.40,607.27 597.00,611.71 597.60,611.82 598.20,616.92 598.80,618.29 599.40,619.96 600.00,620.23 600.60,623.43 601.20,624.71 601.80,626.39 602.40,626.73 603.00,629.59 603.60,629.99 604.20,630.08 604.80,631.48 605.40,631.35 606.00,632.43 606.60,633.17 607.20,634.18 607.80,634.55 608.40,634.49 609.00,634.78 609.60,634.81 610.20,635.02 610.80,635.18 611.40,635.34 612.00,635.50" fill="rgb(235,12,12)" stroke="none" stroke-width="1" fill-opacity="0.72"/>
<polyline points="555.00,635.50 555.60,635.32 556.20,635.14 556.80,634.97 557.40,634.80 558.00,634.71 558.60,634.57 559.20,634.41 559.80,633.99 560.40,633.91 561.00,632.93 561.60,632.18 562.20,631.25 562.80,631.22 563.40,629.97 564.00,629.53 564.60,627.97 565.20,626.14 565.80,623.71 566.40,618.10 567.00,615.60 567.60,611.85 568.20,606.36 568.80,600.44 569.40,595.32 570.00,592.39 570.60,585.33 571.20,578.54 571.80,574.17 572.40,569.32 573.00,561.46 573.60,561.32 574.20,554.46 574.80,549.88 575.40,544.94 576.00,545.95 576.60,539.63 577.20,535.03 577.80,530.62 578.40,528.42 579.00,527.92 579.60,528.80 580.20,528.91 580.80,532.34 581.40,535.08 582.00,535.75 582.60,540.77 583.20,546.65 583.80,548.05 584.40,551.34 585.00,556.06 585.60,556.87 586.20,561.14 586.80,565.82 587.40,568.16 588.00,570.64 588.60,570.58 589.20,577.65 589.80,579.47 590.40,578.85 591.00,583.80 591.60,584.97 592.20,589.84 592.80,592.79 593.40,595.02 594.00,597.22 594.60,600.06 595.20,602.61 595.80,605.20 596.40,607.27 597.00,611.71 597.60,611.82 598.20,616.92 598.80,618.29 599.40,619.96 600.00,620.23 600.60,623.43 601.20,624.71 601.80,626.39 602.40,626.73 603.00,629.59 603.60,629.99 604.20,630.08 604.80,631.48 605.40,631.35 606.00,632.43 606.60,633.17 607.20,634.18 607.80,634.55 608.40,634.49 609.00,634.78 609.60,634.81 610.20,635.02 610.80,635.18 611.40,635.34" fill="none" stroke="#6a0000" stroke-width="0.7" stroke-linejoin="round" />
<line x1="538" y1="634.9" x2="671.4" y2="634.9" stroke="#c81818" stroke-width="0.9" />
</g>
<rect x="538" y="502.1" width="133.4" height="133.4" fill="none" stroke="#333" stroke-width="0.9"/>
<line x1="535.2" y1="521.9" x2="538" y2="521.9" stroke="#333" stroke-width="0.7" />
<text x="534.2" y="523.8" font-size="5.3" fill="#222" text-anchor="end" >80</text>
<line x1="535.2" y1="550.2" x2="538" y2="550.2" stroke="#333" stroke-width="0.7" />
<text x="534.2" y="552.1" font-size="5.3" fill="#222" text-anchor="end" >60</text>
<line x1="535.2" y1="578.6" x2="538" y2="578.6" stroke="#333" stroke-width="0.7" />
<text x="534.2" y="580.5" font-size="5.3" fill="#222" text-anchor="end" >40</text>
<line x1="535.2" y1="606.9" x2="538" y2="606.9" stroke="#333" stroke-width="0.7" />
<text x="534.2" y="608.8" font-size="5.3" fill="#222" text-anchor="end" >20</text>
<line x1="535.2" y1="635.5" x2="538" y2="635.5" stroke="#333" stroke-width="0.7" />
<text x="534.2" y="637.4" font-size="5.3" fill="#222" text-anchor="end" >0</text>
<line x1="536.5" y1="536.05" x2="538" y2="536.05" stroke="#333" stroke-width="0.5" />
<line x1="536.5" y1="564.4499999999999" x2="538" y2="564.4499999999999" stroke="#333" stroke-width="0.5" />
<line x1="536.5" y1="592.8499999999999" x2="538" y2="592.8499999999999" stroke="#333" stroke-width="0.5" />
<line x1="536.5" y1="621.25" x2="538" y2="621.25" stroke="#333" stroke-width="0.5" />
<line x1="570.5" y1="635.5" x2="570.5" y2="638.3" stroke="#333" stroke-width="0.6" />
<text x="570.5" y="644.6" font-size="5.9" fill="#222" text-anchor="middle" >10<tspan dy="-2.4" font-size="4.2">3</tspan></text>
<line x1="580.4339898569114" y1="635.5" x2="580.4339898569114" y2="637.0" stroke="#333" stroke-width="0.4" />
<line x1="586.2450014057489" y1="635.5" x2="586.2450014057489" y2="637.0" stroke="#333" stroke-width="0.4" />
<line x1="590.3679797138227" y1="635.5" x2="590.3679797138227" y2="637.0" stroke="#333" stroke-width="0.4" />
<line x1="593.5660101430886" y1="635.5" x2="593.5660101430886" y2="637.0" stroke="#333" stroke-width="0.4" />
<line x1="596.1789912626602" y1="635.5" x2="596.1789912626602" y2="637.0" stroke="#333" stroke-width="0.4" />
<line x1="598.3882353204705" y1="635.5" x2="598.3882353204705" y2="637.0" stroke="#333" stroke-width="0.4" />
<line x1="600.3019695707342" y1="635.5" x2="600.3019695707342" y2="637.0" stroke="#333" stroke-width="0.4" />
<line x1="601.9900028114977" y1="635.5" x2="601.9900028114977" y2="637.0" stroke="#333" stroke-width="0.4" />
<line x1="603.5" y1="635.5" x2="603.5" y2="638.3" stroke="#333" stroke-width="0.6" />
<text x="603.5" y="644.6" font-size="5.9" fill="#222" text-anchor="middle" >10<tspan dy="-2.4" font-size="4.2">4</tspan></text>
<line x1="613.4339898569114" y1="635.5" x2="613.4339898569114" y2="637.0" stroke="#333" stroke-width="0.4" />
<line x1="619.2450014057489" y1="635.5" x2="619.2450014057489" y2="637.0" stroke="#333" stroke-width="0.4" />
<line x1="623.3679797138227" y1="635.5" x2="623.3679797138227" y2="637.0" stroke="#333" stroke-width="0.4" />
<line x1="626.5660101430886" y1="635.5" x2="626.5660101430886" y2="637.0" stroke="#333" stroke-width="0.4" />
<line x1="629.1789912626602" y1="635.5" x2="629.1789912626602" y2="637.0" stroke="#333" stroke-width="0.4" />
<line x1="631.3882353204705" y1="635.5" x2="631.3882353204705" y2="637.0" stroke="#333" stroke-width="0.4" />
<line x1="633.3019695707342" y1="635.5" x2="633.3019695707342" y2="637.0" stroke="#333" stroke-width="0.4" />
<line x1="634.9900028114977" y1="635.5" x2="634.9900028114977" y2="637.0" stroke="#333" stroke-width="0.4" />
<line x1="636.6" y1="635.5" x2="636.6" y2="638.3" stroke="#333" stroke-width="0.6" />
<text x="636.6" y="644.6" font-size="5.9" fill="#222" text-anchor="middle" >10<tspan dy="-2.4" font-size="4.2">5</tspan></text>
<line x1="646.5339898569114" y1="635.5" x2="646.5339898569114" y2="637.0" stroke="#333" stroke-width="0.4" />
<line x1="652.3450014057489" y1="635.5" x2="652.3450014057489" y2="637.0" stroke="#333" stroke-width="0.4" />
<line x1="656.4679797138227" y1="635.5" x2="656.4679797138227" y2="637.0" stroke="#333" stroke-width="0.4" />
<line x1="659.6660101430887" y1="635.5" x2="659.6660101430887" y2="637.0" stroke="#333" stroke-width="0.4" />
<line x1="662.2789912626603" y1="635.5" x2="662.2789912626603" y2="637.0" stroke="#333" stroke-width="0.4" />
<line x1="664.4882353204705" y1="635.5" x2="664.4882353204705" y2="637.0" stroke="#333" stroke-width="0.4" />
<line x1="666.4019695707342" y1="635.5" x2="666.4019695707342" y2="637.0" stroke="#333" stroke-width="0.4" />
<line x1="668.0900028114977" y1="635.5" x2="668.0900028114977" y2="637.0" stroke="#333" stroke-width="0.4" />
<line x1="670" y1="635.5" x2="670" y2="638.3" stroke="#333" stroke-width="0.6" />
<text x="670" y="644.6" font-size="5.9" fill="#222" text-anchor="middle" >10<tspan dy="-2.4" font-size="4.2">6</tspan></text>
<line x1="370.2" y1="512" x2="370.2" y2="649.2" stroke="#000" stroke-width="1.3" />
<polygon points="370.20,507.50 366.40,515.00 374.00,515.00" fill="#000" stroke="none" stroke-width="1" />
<line x1="369.6" y1="649" x2="667" y2="649" stroke="#000" stroke-width="1.3" />
<polygon points="674.60,649.00 666.00,645.20 666.00,652.80" fill="#000" stroke="none" stroke-width="1" />
<text transform="translate(359.4,577.9) rotate(-90)" x="0" y="0" font-size="12" fill="#000" text-anchor="middle" >cells (x10<tspan dy="-4" font-size="7.5">3</tspan><tspan dy="4">)</tspan></text>
<text x="487.6" y="669.2" font-size="12.3" fill="#000" text-anchor="start" >pY694-STAT5</text>
<rect x="609.7" y="506.8" width="10.6" height="10.2" fill="url(#hatch)" stroke="#111" stroke-width="1.3"/>
<text x="627.7" y="516" font-size="9.3" fill="#222" text-anchor="start" >C isotype</text>
<rect x="609.7" y="528.8" width="10.6" height="10.2" fill="#e4e2dc" stroke="#111" stroke-width="1.3"/>
<text x="627.7" y="536.7" font-size="8.9" fill="#000" text-anchor="start" font-weight="bold" >C-THPO</text>
<rect x="609.7" y="552.4" width="10.6" height="10.2" fill="#4c4cc8" stroke="#111" stroke-width="1.3"/>
<text x="627.7" y="561.2" font-size="8.9" fill="#5050d8" text-anchor="start" font-weight="bold" >C+THPO</text>
<rect x="609.7" y="576" width="10.6" height="10.2" fill="#d45a5a" stroke="#111" stroke-width="1.3"/>
<text x="627.7" y="585.4" font-size="9.2" fill="#e05050" text-anchor="start" font-weight="bold" >4OH-TAM</text>
</svg>
</body></html>
